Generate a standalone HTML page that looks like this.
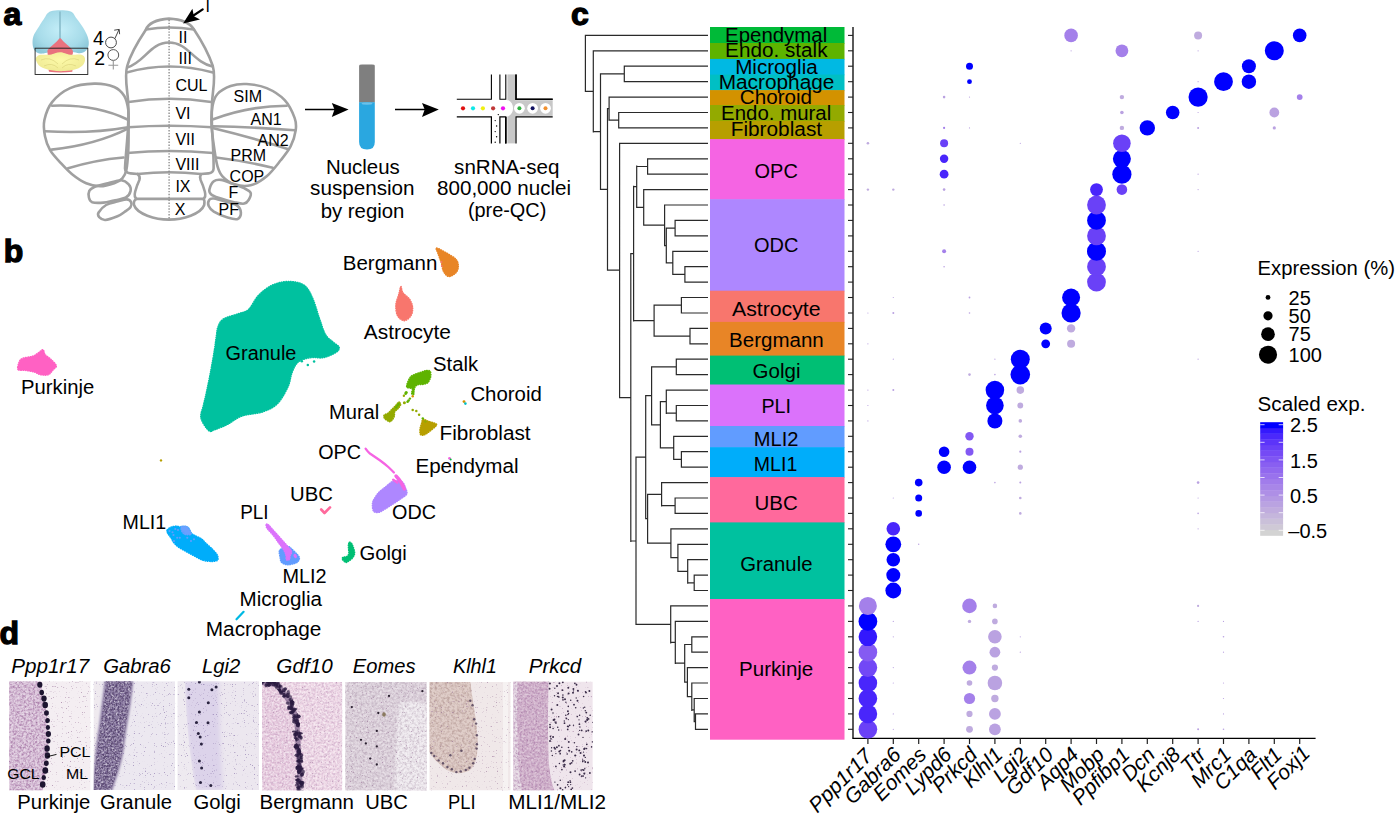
<!DOCTYPE html>
<html><head><meta charset="utf-8"><style>
html,body{margin:0;padding:0;background:#fff;width:1396px;height:815px;overflow:hidden}
svg{display:block;font-family:"Liberation Sans",sans-serif}
</style></head><body>
<svg width="1396" height="815" viewBox="0 0 1396 815">
<text x="3.6" y="25.2" font-size="32" font-weight="bold" fill="#000" stroke="#000" stroke-width="1.3">a</text>
<text x="3.8" y="261.6" font-size="32" font-weight="bold" fill="#000" stroke="#000" stroke-width="1.3">b</text>
<text x="571" y="25" font-size="32" font-weight="bold" fill="#000" stroke="#000" stroke-width="1.3">c</text>
<text x="-0.6" y="644.4" font-size="32" font-weight="bold" fill="#000" stroke="#000" stroke-width="1.3">d</text>
<rect x="710" y="27.0" width="134.5" height="16.60" fill="#00BA38"/>
<rect x="710" y="43.0" width="134.5" height="16.50" fill="#5EB300"/>
<rect x="710" y="58.9" width="134.5" height="16.30" fill="#00B9E3"/>
<rect x="710" y="74.6" width="134.5" height="16.10" fill="#00BFC4"/>
<rect x="710" y="90.1" width="134.5" height="15.50" fill="#D39200"/>
<rect x="710" y="105.0" width="134.5" height="16.60" fill="#93AA00"/>
<rect x="710" y="121.0" width="134.5" height="18.70" fill="#B79F00"/>
<rect x="710" y="139.1" width="134.5" height="60.70" fill="#F564E3"/>
<rect x="710" y="199.2" width="134.5" height="92.10" fill="#AE87FF"/>
<rect x="710" y="290.7" width="134.5" height="31.80" fill="#F8766D"/>
<rect x="710" y="321.9" width="134.5" height="34.30" fill="#E88526"/>
<rect x="710" y="355.6" width="134.5" height="29.50" fill="#00BF74"/>
<rect x="710" y="384.5" width="134.5" height="42.10" fill="#DB72FB"/>
<rect x="710" y="426.0" width="134.5" height="21.80" fill="#619CFF"/>
<rect x="710" y="447.2" width="134.5" height="30.50" fill="#00ADFA"/>
<rect x="710" y="477.1" width="134.5" height="45.90" fill="#FF699C"/>
<rect x="710" y="522.4" width="134.5" height="77.20" fill="#00C19F"/>
<rect x="710" y="599.0" width="134.5" height="140.70" fill="#FF61C3"/>
<text x="725.1" y="41.6" font-size="20" textLength="102.1" lengthAdjust="spacingAndGlyphs">Ependymal</text>
<text x="725.1" y="57.1" font-size="20" textLength="102.4" lengthAdjust="spacingAndGlyphs">Endo. stalk</text>
<text x="735.2" y="73.6" font-size="20" textLength="82.5" lengthAdjust="spacingAndGlyphs">Microglia</text>
<text x="718.7" y="88.7" font-size="20" textLength="115.7" lengthAdjust="spacingAndGlyphs">Macrophage</text>
<text x="739.8" y="104.2" font-size="20" textLength="72.3" lengthAdjust="spacingAndGlyphs">Choroid</text>
<text x="721.1" y="120.2" font-size="20" textLength="110.1" lengthAdjust="spacingAndGlyphs">Endo. mural</text>
<text x="730.7" y="136.4" font-size="20" textLength="91.4" lengthAdjust="spacingAndGlyphs">Fibroblast</text>
<text x="754.6" y="178.3" font-size="20" textLength="43.2" lengthAdjust="spacingAndGlyphs">OPC</text>
<text x="753.9" y="251.9" font-size="20" textLength="44.5" lengthAdjust="spacingAndGlyphs">ODC</text>
<text x="732" y="316.1" font-size="20" textLength="88.6" lengthAdjust="spacingAndGlyphs">Astrocyte</text>
<text x="729.1" y="347.2" font-size="20" textLength="94.6" lengthAdjust="spacingAndGlyphs">Bergmann</text>
<text x="752.6" y="377.8" font-size="20" textLength="47.9" lengthAdjust="spacingAndGlyphs">Golgi</text>
<text x="761.4" y="413" font-size="20" textLength="29.5" lengthAdjust="spacingAndGlyphs">PLI</text>
<text x="753.8" y="445.8" font-size="20" textLength="44.7" lengthAdjust="spacingAndGlyphs">MLI2</text>
<text x="753.8" y="471.2" font-size="20" textLength="43.5" lengthAdjust="spacingAndGlyphs">MLI1</text>
<text x="754.5" y="509.7" font-size="20" textLength="43.2" lengthAdjust="spacingAndGlyphs">UBC</text>
<text x="740.2" y="571.2" font-size="20" textLength="72.3" lengthAdjust="spacingAndGlyphs">Granule</text>
<text x="739.1" y="675.6" font-size="20" textLength="74.2" lengthAdjust="spacingAndGlyphs">Purkinje</text>
<line x1="853" y1="27" x2="853" y2="738.5" stroke="#000" stroke-width="1.3"/>
<line x1="852.4" y1="738.4" x2="1315.6" y2="738.4" stroke="#000" stroke-width="1.3"/>
<line x1="848" y1="35.4" x2="853" y2="35.4" stroke="#222" stroke-width="1.1"/>
<line x1="848" y1="50.8" x2="853" y2="50.8" stroke="#222" stroke-width="1.1"/>
<line x1="848" y1="66.2" x2="853" y2="66.2" stroke="#222" stroke-width="1.1"/>
<line x1="848" y1="81.7" x2="853" y2="81.7" stroke="#222" stroke-width="1.1"/>
<line x1="848" y1="97.1" x2="853" y2="97.1" stroke="#222" stroke-width="1.1"/>
<line x1="848" y1="112.5" x2="853" y2="112.5" stroke="#222" stroke-width="1.1"/>
<line x1="848" y1="127.9" x2="853" y2="127.9" stroke="#222" stroke-width="1.1"/>
<line x1="848" y1="143.3" x2="853" y2="143.3" stroke="#222" stroke-width="1.1"/>
<line x1="848" y1="158.8" x2="853" y2="158.8" stroke="#222" stroke-width="1.1"/>
<line x1="848" y1="174.2" x2="853" y2="174.2" stroke="#222" stroke-width="1.1"/>
<line x1="848" y1="189.6" x2="853" y2="189.6" stroke="#222" stroke-width="1.1"/>
<line x1="848" y1="205.0" x2="853" y2="205.0" stroke="#222" stroke-width="1.1"/>
<line x1="848" y1="220.4" x2="853" y2="220.4" stroke="#222" stroke-width="1.1"/>
<line x1="848" y1="235.9" x2="853" y2="235.9" stroke="#222" stroke-width="1.1"/>
<line x1="848" y1="251.3" x2="853" y2="251.3" stroke="#222" stroke-width="1.1"/>
<line x1="848" y1="266.7" x2="853" y2="266.7" stroke="#222" stroke-width="1.1"/>
<line x1="848" y1="282.1" x2="853" y2="282.1" stroke="#222" stroke-width="1.1"/>
<line x1="848" y1="297.5" x2="853" y2="297.5" stroke="#222" stroke-width="1.1"/>
<line x1="848" y1="313.0" x2="853" y2="313.0" stroke="#222" stroke-width="1.1"/>
<line x1="848" y1="328.4" x2="853" y2="328.4" stroke="#222" stroke-width="1.1"/>
<line x1="848" y1="343.8" x2="853" y2="343.8" stroke="#222" stroke-width="1.1"/>
<line x1="848" y1="359.2" x2="853" y2="359.2" stroke="#222" stroke-width="1.1"/>
<line x1="848" y1="374.6" x2="853" y2="374.6" stroke="#222" stroke-width="1.1"/>
<line x1="848" y1="390.1" x2="853" y2="390.1" stroke="#222" stroke-width="1.1"/>
<line x1="848" y1="405.5" x2="853" y2="405.5" stroke="#222" stroke-width="1.1"/>
<line x1="848" y1="420.9" x2="853" y2="420.9" stroke="#222" stroke-width="1.1"/>
<line x1="848" y1="436.3" x2="853" y2="436.3" stroke="#222" stroke-width="1.1"/>
<line x1="848" y1="451.7" x2="853" y2="451.7" stroke="#222" stroke-width="1.1"/>
<line x1="848" y1="467.2" x2="853" y2="467.2" stroke="#222" stroke-width="1.1"/>
<line x1="848" y1="482.6" x2="853" y2="482.6" stroke="#222" stroke-width="1.1"/>
<line x1="848" y1="498.0" x2="853" y2="498.0" stroke="#222" stroke-width="1.1"/>
<line x1="848" y1="513.4" x2="853" y2="513.4" stroke="#222" stroke-width="1.1"/>
<line x1="848" y1="528.8" x2="853" y2="528.8" stroke="#222" stroke-width="1.1"/>
<line x1="848" y1="544.3" x2="853" y2="544.3" stroke="#222" stroke-width="1.1"/>
<line x1="848" y1="559.7" x2="853" y2="559.7" stroke="#222" stroke-width="1.1"/>
<line x1="848" y1="575.1" x2="853" y2="575.1" stroke="#222" stroke-width="1.1"/>
<line x1="848" y1="590.5" x2="853" y2="590.5" stroke="#222" stroke-width="1.1"/>
<line x1="848" y1="605.9" x2="853" y2="605.9" stroke="#222" stroke-width="1.1"/>
<line x1="848" y1="621.4" x2="853" y2="621.4" stroke="#222" stroke-width="1.1"/>
<line x1="848" y1="636.8" x2="853" y2="636.8" stroke="#222" stroke-width="1.1"/>
<line x1="848" y1="652.2" x2="853" y2="652.2" stroke="#222" stroke-width="1.1"/>
<line x1="848" y1="667.6" x2="853" y2="667.6" stroke="#222" stroke-width="1.1"/>
<line x1="848" y1="683.0" x2="853" y2="683.0" stroke="#222" stroke-width="1.1"/>
<line x1="848" y1="698.5" x2="853" y2="698.5" stroke="#222" stroke-width="1.1"/>
<line x1="848" y1="713.9" x2="853" y2="713.9" stroke="#222" stroke-width="1.1"/>
<line x1="848" y1="729.3" x2="853" y2="729.3" stroke="#222" stroke-width="1.1"/>
<line x1="867.9" y1="738.4" x2="867.9" y2="744" stroke="#222" stroke-width="1.2"/>
<text x="0" y="0" font-size="21" font-style="italic" text-anchor="end" transform="translate(873.4,757.5) rotate(-45)">Ppp1r17</text>
<line x1="893.3" y1="738.4" x2="893.3" y2="744" stroke="#222" stroke-width="1.2"/>
<text x="0" y="0" font-size="21" font-style="italic" text-anchor="end" transform="translate(902.3,756.0) rotate(-45)">Gabra6</text>
<line x1="918.7" y1="738.4" x2="918.7" y2="744" stroke="#222" stroke-width="1.2"/>
<text x="0" y="0" font-size="21" font-style="italic" text-anchor="end" transform="translate(927.7,756.0) rotate(-45)">Eomes</text>
<line x1="944.1" y1="738.4" x2="944.1" y2="744" stroke="#222" stroke-width="1.2"/>
<text x="0" y="0" font-size="21" font-style="italic" text-anchor="end" transform="translate(953.1,756.0) rotate(-45)">Lypd6</text>
<line x1="969.5" y1="738.4" x2="969.5" y2="744" stroke="#222" stroke-width="1.2"/>
<text x="0" y="0" font-size="21" font-style="italic" text-anchor="end" transform="translate(978.5,756.0) rotate(-45)">Prkcd</text>
<line x1="994.9" y1="738.4" x2="994.9" y2="744" stroke="#222" stroke-width="1.2"/>
<text x="0" y="0" font-size="21" font-style="italic" text-anchor="end" transform="translate(1003.9,756.0) rotate(-45)">Klhl1</text>
<line x1="1020.3" y1="738.4" x2="1020.3" y2="744" stroke="#222" stroke-width="1.2"/>
<text x="0" y="0" font-size="21" font-style="italic" text-anchor="end" transform="translate(1029.3,756.0) rotate(-45)">Lgi2</text>
<line x1="1045.7" y1="738.4" x2="1045.7" y2="744" stroke="#222" stroke-width="1.2"/>
<text x="0" y="0" font-size="21" font-style="italic" text-anchor="end" transform="translate(1054.7,756.0) rotate(-45)">Gdf10</text>
<line x1="1071.1" y1="738.4" x2="1071.1" y2="744" stroke="#222" stroke-width="1.2"/>
<text x="0" y="0" font-size="21" font-style="italic" text-anchor="end" transform="translate(1080.1,756.0) rotate(-45)">Aqp4</text>
<line x1="1096.5" y1="738.4" x2="1096.5" y2="744" stroke="#222" stroke-width="1.2"/>
<text x="0" y="0" font-size="21" font-style="italic" text-anchor="end" transform="translate(1105.5,756.0) rotate(-45)">Mobp</text>
<line x1="1121.9" y1="738.4" x2="1121.9" y2="744" stroke="#222" stroke-width="1.2"/>
<text x="0" y="0" font-size="21" font-style="italic" text-anchor="end" transform="translate(1130.9,756.0) rotate(-45)">Ppfibp1</text>
<line x1="1147.3" y1="738.4" x2="1147.3" y2="744" stroke="#222" stroke-width="1.2"/>
<text x="0" y="0" font-size="21" font-style="italic" text-anchor="end" transform="translate(1156.3,756.0) rotate(-45)">Dcn</text>
<line x1="1172.7" y1="738.4" x2="1172.7" y2="744" stroke="#222" stroke-width="1.2"/>
<text x="0" y="0" font-size="21" font-style="italic" text-anchor="end" transform="translate(1181.7,756.0) rotate(-45)">Kcnj8</text>
<line x1="1198.1" y1="738.4" x2="1198.1" y2="744" stroke="#222" stroke-width="1.2"/>
<text x="0" y="0" font-size="21" font-style="italic" text-anchor="end" transform="translate(1207.1,756.0) rotate(-45)">Ttr</text>
<line x1="1223.5" y1="738.4" x2="1223.5" y2="744" stroke="#222" stroke-width="1.2"/>
<text x="0" y="0" font-size="21" font-style="italic" text-anchor="end" transform="translate(1232.5,756.0) rotate(-45)">Mrc1</text>
<line x1="1248.9" y1="738.4" x2="1248.9" y2="744" stroke="#222" stroke-width="1.2"/>
<text x="0" y="0" font-size="21" font-style="italic" text-anchor="end" transform="translate(1257.9,756.0) rotate(-45)">C1qa</text>
<line x1="1274.3" y1="738.4" x2="1274.3" y2="744" stroke="#222" stroke-width="1.2"/>
<text x="0" y="0" font-size="21" font-style="italic" text-anchor="end" transform="translate(1283.3,756.0) rotate(-45)">Flt1</text>
<line x1="1299.7" y1="738.4" x2="1299.7" y2="744" stroke="#222" stroke-width="1.2"/>
<text x="0" y="0" font-size="21" font-style="italic" text-anchor="end" transform="translate(1311.2,754.5) rotate(-45)">Foxj1</text>
<circle cx="867.9" cy="729.3" r="9.3" fill="#6a41f7"/>
<circle cx="893.3" cy="729.3" r="0.6" fill="#baa2e1"/>
<circle cx="969.5" cy="729.3" r="3.4" fill="#bfabdf"/>
<circle cx="994.9" cy="729.3" r="5.9" fill="#baa2e1"/>
<circle cx="1198.1" cy="729.3" r="1.0" fill="#baa2e1"/>
<circle cx="1223.5" cy="729.3" r="0.8" fill="#baa2e1"/>
<circle cx="867.9" cy="713.9" r="9.3" fill="#4926fb"/>
<circle cx="893.3" cy="713.9" r="0.6" fill="#baa2e1"/>
<circle cx="969.5" cy="713.9" r="3.1" fill="#bfabdf"/>
<circle cx="994.9" cy="713.9" r="5.9" fill="#baa2e1"/>
<circle cx="1223.5" cy="713.9" r="0.6" fill="#baa2e1"/>
<circle cx="867.9" cy="698.5" r="9.3" fill="#4926fb"/>
<circle cx="969.5" cy="698.5" r="5.6" fill="#a480ea"/>
<circle cx="994.9" cy="698.5" r="3.7" fill="#bfabdf"/>
<circle cx="1223.5" cy="698.5" r="0.6" fill="#baa2e1"/>
<circle cx="867.9" cy="683.0" r="9.3" fill="#4926fb"/>
<circle cx="893.3" cy="683.0" r="0.6" fill="#baa2e1"/>
<circle cx="969.5" cy="683.0" r="2.8" fill="#bfabdf"/>
<circle cx="994.9" cy="683.0" r="7.3" fill="#baa2e1"/>
<circle cx="1223.5" cy="683.0" r="0.6" fill="#baa2e1"/>
<circle cx="867.9" cy="667.6" r="9.3" fill="#7248f6"/>
<circle cx="893.3" cy="667.6" r="0.6" fill="#baa2e1"/>
<circle cx="969.5" cy="667.6" r="7.0" fill="#a480ea"/>
<circle cx="994.9" cy="667.6" r="3.1" fill="#bfabdf"/>
<circle cx="867.9" cy="652.2" r="9.3" fill="#855bf2"/>
<circle cx="994.9" cy="652.2" r="5.4" fill="#baa2e1"/>
<circle cx="1020.3" cy="652.2" r="0.6" fill="#baa2e1"/>
<circle cx="1223.5" cy="652.2" r="0.6" fill="#baa2e1"/>
<circle cx="867.9" cy="636.8" r="9.3" fill="#3318fd"/>
<circle cx="893.3" cy="636.8" r="0.6" fill="#baa2e1"/>
<circle cx="994.9" cy="636.8" r="6.8" fill="#baa2e1"/>
<circle cx="1020.3" cy="636.8" r="0.6" fill="#baa2e1"/>
<circle cx="1223.5" cy="636.8" r="0.8" fill="#baa2e1"/>
<circle cx="867.9" cy="621.4" r="9.4" fill="#0000ff"/>
<circle cx="893.3" cy="621.4" r="0.6" fill="#baa2e1"/>
<circle cx="969.5" cy="621.4" r="1.7" fill="#bfabdf"/>
<circle cx="994.9" cy="621.4" r="2.8" fill="#bfabdf"/>
<circle cx="1198.1" cy="621.4" r="0.6" fill="#baa2e1"/>
<circle cx="1223.5" cy="621.4" r="0.6" fill="#baa2e1"/>
<circle cx="867.9" cy="605.9" r="9.0" fill="#a480ea"/>
<circle cx="969.5" cy="605.9" r="7.3" fill="#a480ea"/>
<circle cx="994.9" cy="605.9" r="2.3" fill="#bfabdf"/>
<circle cx="1198.1" cy="605.9" r="1.1" fill="#bfabdf"/>
<circle cx="893.3" cy="590.5" r="7.9" fill="#0000ff"/>
<circle cx="893.3" cy="575.1" r="7.0" fill="#0000ff"/>
<circle cx="893.3" cy="559.7" r="6.8" fill="#0000ff"/>
<circle cx="893.3" cy="544.3" r="7.9" fill="#0000ff"/>
<circle cx="918.7" cy="544.3" r="0.7" fill="#baa2e1"/>
<circle cx="893.3" cy="528.8" r="6.8" fill="#4926fb"/>
<circle cx="1198.1" cy="528.8" r="0.6" fill="#baa2e1"/>
<circle cx="918.7" cy="513.4" r="3.3" fill="#0000ff"/>
<circle cx="1020.3" cy="513.4" r="1.3" fill="#bfabdf"/>
<circle cx="1198.1" cy="513.4" r="0.8" fill="#baa2e1"/>
<circle cx="893.3" cy="498.0" r="0.6" fill="#baa2e1"/>
<circle cx="918.7" cy="498.0" r="3.5" fill="#0000ff"/>
<circle cx="1020.3" cy="498.0" r="1.3" fill="#bfabdf"/>
<circle cx="1198.1" cy="498.0" r="0.6" fill="#baa2e1"/>
<circle cx="918.7" cy="482.6" r="3.8" fill="#0000ff"/>
<circle cx="994.9" cy="482.6" r="0.8" fill="#baa2e1"/>
<circle cx="1020.3" cy="482.6" r="1.0" fill="#baa2e1"/>
<circle cx="1198.1" cy="482.6" r="1.3" fill="#baa2e1"/>
<circle cx="944.1" cy="467.2" r="6.8" fill="#0000ff"/>
<circle cx="969.5" cy="467.2" r="6.8" fill="#0000ff"/>
<circle cx="1020.3" cy="467.2" r="2.6" fill="#bfabdf"/>
<circle cx="944.1" cy="451.7" r="5.3" fill="#0000ff"/>
<circle cx="969.5" cy="451.7" r="4.0" fill="#8258f3"/>
<circle cx="1020.3" cy="451.7" r="1.1" fill="#baa2e1"/>
<circle cx="969.5" cy="436.3" r="4.2" fill="#8258f3"/>
<circle cx="1020.3" cy="436.3" r="1.8" fill="#bfabdf"/>
<circle cx="867.9" cy="420.9" r="0.6" fill="#baa2e1"/>
<circle cx="994.9" cy="420.9" r="7.5" fill="#0000ff"/>
<circle cx="1020.3" cy="420.9" r="1.8" fill="#bfabdf"/>
<circle cx="867.9" cy="405.5" r="0.6" fill="#baa2e1"/>
<circle cx="994.9" cy="405.5" r="8.8" fill="#0000ff"/>
<circle cx="1020.3" cy="405.5" r="2.9" fill="#bfabdf"/>
<circle cx="867.9" cy="390.1" r="0.6" fill="#baa2e1"/>
<circle cx="893.3" cy="390.1" r="1.0" fill="#baa2e1"/>
<circle cx="994.9" cy="390.1" r="9.3" fill="#0000ff"/>
<circle cx="1020.3" cy="390.1" r="3.8" fill="#bfabdf"/>
<circle cx="969.5" cy="374.6" r="1.3" fill="#bfabdf"/>
<circle cx="994.9" cy="374.6" r="0.8" fill="#baa2e1"/>
<circle cx="1020.3" cy="374.6" r="9.8" fill="#0000ff"/>
<circle cx="893.3" cy="359.2" r="0.6" fill="#baa2e1"/>
<circle cx="994.9" cy="359.2" r="0.6" fill="#baa2e1"/>
<circle cx="1020.3" cy="359.2" r="9.5" fill="#0000ff"/>
<circle cx="1198.1" cy="359.2" r="0.6" fill="#baa2e1"/>
<circle cx="867.9" cy="343.8" r="0.6" fill="#baa2e1"/>
<circle cx="1045.7" cy="343.8" r="4.4" fill="#0000ff"/>
<circle cx="1071.1" cy="343.8" r="4.0" fill="#bfabdf"/>
<circle cx="1045.7" cy="328.4" r="6.0" fill="#0000ff"/>
<circle cx="1071.1" cy="328.4" r="4.2" fill="#bfabdf"/>
<circle cx="867.9" cy="313.0" r="0.6" fill="#baa2e1"/>
<circle cx="893.3" cy="313.0" r="1.0" fill="#baa2e1"/>
<circle cx="969.5" cy="313.0" r="0.8" fill="#baa2e1"/>
<circle cx="1071.1" cy="313.0" r="9.6" fill="#0000ff"/>
<circle cx="893.3" cy="297.5" r="0.6" fill="#baa2e1"/>
<circle cx="969.5" cy="297.5" r="0.9" fill="#baa2e1"/>
<circle cx="1071.1" cy="297.5" r="9.0" fill="#0000ff"/>
<circle cx="1096.5" cy="282.1" r="9.4" fill="#6a41f7"/>
<circle cx="944.1" cy="266.7" r="0.8" fill="#baa2e1"/>
<circle cx="1096.5" cy="266.7" r="9.4" fill="#6a41f7"/>
<circle cx="944.1" cy="251.3" r="2.0" fill="#a480ea"/>
<circle cx="1096.5" cy="251.3" r="9.5" fill="#0000ff"/>
<circle cx="1198.1" cy="251.3" r="0.6" fill="#baa2e1"/>
<circle cx="1096.5" cy="235.9" r="9.4" fill="#6a41f7"/>
<circle cx="1096.5" cy="220.4" r="9.4" fill="#0000ff"/>
<circle cx="944.1" cy="205.0" r="0.8" fill="#baa2e1"/>
<circle cx="1096.5" cy="205.0" r="9.4" fill="#6a41f7"/>
<circle cx="867.9" cy="189.6" r="1.2" fill="#bfabdf"/>
<circle cx="893.3" cy="189.6" r="1.2" fill="#bfabdf"/>
<circle cx="944.1" cy="189.6" r="1.3" fill="#baa2e1"/>
<circle cx="1096.5" cy="189.6" r="6.4" fill="#4926fb"/>
<circle cx="1121.9" cy="189.6" r="5.3" fill="#6a41f7"/>
<circle cx="1198.1" cy="189.6" r="0.6" fill="#baa2e1"/>
<circle cx="944.1" cy="174.2" r="4.4" fill="#4926fb"/>
<circle cx="1121.9" cy="174.2" r="9.6" fill="#0000ff"/>
<circle cx="1198.1" cy="174.2" r="0.6" fill="#baa2e1"/>
<circle cx="944.1" cy="158.8" r="4.2" fill="#4926fb"/>
<circle cx="1121.9" cy="158.8" r="9.0" fill="#0000ff"/>
<circle cx="867.9" cy="143.3" r="1.3" fill="#bfabdf"/>
<circle cx="944.1" cy="143.3" r="4.0" fill="#6a41f7"/>
<circle cx="1020.3" cy="143.3" r="0.6" fill="#baa2e1"/>
<circle cx="1121.9" cy="143.3" r="8.8" fill="#6a41f7"/>
<circle cx="944.1" cy="127.9" r="1.1" fill="#a480ea"/>
<circle cx="969.5" cy="127.9" r="0.6" fill="#baa2e1"/>
<circle cx="1121.9" cy="127.9" r="2.2" fill="#bfabdf"/>
<circle cx="1147.3" cy="127.9" r="7.7" fill="#0000ff"/>
<circle cx="1198.1" cy="127.9" r="1.0" fill="#baa2e1"/>
<circle cx="1274.3" cy="127.9" r="1.6" fill="#baa2e1"/>
<circle cx="1121.9" cy="112.5" r="1.8" fill="#baa2e1"/>
<circle cx="1172.7" cy="112.5" r="6.8" fill="#0000ff"/>
<circle cx="1198.1" cy="112.5" r="0.6" fill="#baa2e1"/>
<circle cx="1274.3" cy="112.5" r="4.9" fill="#baa2e1"/>
<circle cx="944.1" cy="97.1" r="1.3" fill="#baa2e1"/>
<circle cx="969.5" cy="97.1" r="0.6" fill="#baa2e1"/>
<circle cx="1121.9" cy="97.1" r="2.2" fill="#bfabdf"/>
<circle cx="1198.1" cy="97.1" r="9.6" fill="#0000ff"/>
<circle cx="1299.7" cy="97.1" r="2.9" fill="#a480ea"/>
<circle cx="969.5" cy="81.7" r="2.4" fill="#0000ff"/>
<circle cx="1198.1" cy="81.7" r="0.6" fill="#baa2e1"/>
<circle cx="1223.5" cy="81.7" r="9.4" fill="#0000ff"/>
<circle cx="1248.9" cy="81.7" r="7.2" fill="#0000ff"/>
<circle cx="969.5" cy="66.2" r="3.5" fill="#0000ff"/>
<circle cx="1248.9" cy="66.2" r="7.0" fill="#0000ff"/>
<circle cx="1071.1" cy="50.8" r="0.6" fill="#baa2e1"/>
<circle cx="1121.9" cy="50.8" r="6.4" fill="#a480ea"/>
<circle cx="1198.1" cy="50.8" r="0.6" fill="#baa2e1"/>
<circle cx="1274.3" cy="50.8" r="9.5" fill="#0000ff"/>
<circle cx="1071.1" cy="35.4" r="6.8" fill="#a480ea"/>
<circle cx="1198.1" cy="35.4" r="4.0" fill="#bfabdf"/>
<circle cx="1299.7" cy="35.4" r="6.8" fill="#0000ff"/>
<text x="1257.6" y="275.2" font-size="20" textLength="137.3" lengthAdjust="spacingAndGlyphs">Expression (%)</text>
<circle cx="1268" cy="297.4" r="2.4" fill="#000"/>
<text x="1288.6" y="304.59999999999997" font-size="20" text-anchor="start" font-weight="normal" fill="#000" >25</text>
<circle cx="1268" cy="315.8" r="4.6" fill="#000"/>
<text x="1288.6" y="323.0" font-size="20" text-anchor="start" font-weight="normal" fill="#000" >50</text>
<circle cx="1268" cy="334.2" r="6.85" fill="#000"/>
<text x="1288.6" y="341.4" font-size="20" text-anchor="start" font-weight="normal" fill="#000" >75</text>
<circle cx="1268" cy="354.7" r="9.06" fill="#000"/>
<text x="1288.6" y="361.9" font-size="20" text-anchor="start" font-weight="normal" fill="#000" >100</text>
<text x="1257.6" y="410.6" font-size="20" textLength="107.8" lengthAdjust="spacingAndGlyphs">Scaled exp.</text>
<rect x="1260.2" y="529.84" width="22.9" height="5.97" fill="#d3d3d3"/>
<rect x="1260.2" y="524.17" width="22.9" height="5.97" fill="#cfc9d6"/>
<rect x="1260.2" y="518.50" width="22.9" height="5.97" fill="#cac0d9"/>
<rect x="1260.2" y="512.84" width="22.9" height="5.97" fill="#c5b6dc"/>
<rect x="1260.2" y="507.18" width="22.9" height="5.97" fill="#c0acde"/>
<rect x="1260.2" y="501.51" width="22.9" height="5.97" fill="#baa3e1"/>
<rect x="1260.2" y="495.84" width="22.9" height="5.97" fill="#b499e3"/>
<rect x="1260.2" y="490.18" width="22.9" height="5.97" fill="#ae8fe6"/>
<rect x="1260.2" y="484.51" width="22.9" height="5.97" fill="#a886e8"/>
<rect x="1260.2" y="478.85" width="22.9" height="5.97" fill="#a17ceb"/>
<rect x="1260.2" y="473.19" width="22.9" height="5.97" fill="#9972ed"/>
<rect x="1260.2" y="467.52" width="22.9" height="5.97" fill="#9168ef"/>
<rect x="1260.2" y="461.86" width="22.9" height="5.97" fill="#895ff1"/>
<rect x="1260.2" y="456.19" width="22.9" height="5.97" fill="#7f55f3"/>
<rect x="1260.2" y="450.52" width="22.9" height="5.97" fill="#754af5"/>
<rect x="1260.2" y="444.86" width="22.9" height="5.97" fill="#6940f7"/>
<rect x="1260.2" y="439.19" width="22.9" height="5.97" fill="#5c34f9"/>
<rect x="1260.2" y="433.53" width="22.9" height="5.97" fill="#4b28fb"/>
<rect x="1260.2" y="427.87" width="22.9" height="5.97" fill="#3519fd"/>
<rect x="1260.2" y="422.20" width="22.9" height="5.97" fill="#0000ff"/>
<line x1="1260.2" y1="424.7" x2="1264.6" y2="424.7" stroke="#fff" stroke-width="1" opacity="0.75"/>
<line x1="1278.7" y1="424.7" x2="1283.1" y2="424.7" stroke="#fff" stroke-width="1" opacity="0.75"/>
<line x1="1260.2" y1="442.3" x2="1264.6" y2="442.3" stroke="#fff" stroke-width="1" opacity="0.75"/>
<line x1="1278.7" y1="442.3" x2="1283.1" y2="442.3" stroke="#fff" stroke-width="1" opacity="0.75"/>
<line x1="1260.2" y1="459.9" x2="1264.6" y2="459.9" stroke="#fff" stroke-width="1" opacity="0.75"/>
<line x1="1278.7" y1="459.9" x2="1283.1" y2="459.9" stroke="#fff" stroke-width="1" opacity="0.75"/>
<line x1="1260.2" y1="477.5" x2="1264.6" y2="477.5" stroke="#fff" stroke-width="1" opacity="0.75"/>
<line x1="1278.7" y1="477.5" x2="1283.1" y2="477.5" stroke="#fff" stroke-width="1" opacity="0.75"/>
<line x1="1260.2" y1="495.1" x2="1264.6" y2="495.1" stroke="#fff" stroke-width="1" opacity="0.75"/>
<line x1="1278.7" y1="495.1" x2="1283.1" y2="495.1" stroke="#fff" stroke-width="1" opacity="0.75"/>
<line x1="1260.2" y1="512.7" x2="1264.6" y2="512.7" stroke="#fff" stroke-width="1" opacity="0.75"/>
<line x1="1278.7" y1="512.7" x2="1283.1" y2="512.7" stroke="#fff" stroke-width="1" opacity="0.75"/>
<line x1="1260.2" y1="530.3" x2="1264.6" y2="530.3" stroke="#fff" stroke-width="1" opacity="0.75"/>
<line x1="1278.7" y1="530.3" x2="1283.1" y2="530.3" stroke="#fff" stroke-width="1" opacity="0.75"/>
<text x="1290" y="432.3" font-size="20" text-anchor="start" font-weight="normal" fill="#000" >2.5</text>
<text x="1290" y="467.5" font-size="20" text-anchor="start" font-weight="normal" fill="#000" >1.5</text>
<text x="1290" y="502.70000000000005" font-size="20" text-anchor="start" font-weight="normal" fill="#000" >0.5</text>
<text x="1288.3" y="537.9" font-size="20" text-anchor="start" font-weight="normal" fill="#000" >–0.5</text>
<path d="M585.4 35.4L707.4 35.4M593.3 50.8L707.4 50.8M624.3 66.2L707.4 66.2M624.3 81.7L707.4 81.7M609.1 97.1L707.4 97.1M618.7 112.5L707.4 112.5M618.7 127.9L707.4 127.9M619.6 143.3L707.4 143.3M647.6 158.8L707.4 158.8M647.6 174.2L707.4 174.2M643.7 189.6L707.4 189.6M664.6 205.0L707.4 205.0M675.1 220.4L707.4 220.4M675.1 235.9L707.4 235.9M672.8 251.3L707.4 251.3M684.9 266.7L707.4 266.7M684.9 282.1L707.4 282.1M681.4 297.5L707.4 297.5M681.4 313.0L707.4 313.0M690.0 328.4L707.4 328.4M690.0 343.8L707.4 343.8M676.3 359.2L707.4 359.2M676.3 374.6L707.4 374.6M666.3 390.1L707.4 390.1M676.3 405.5L707.4 405.5M676.3 420.9L707.4 420.9M673.7 436.3L707.4 436.3M681.4 451.7L707.4 451.7M681.4 467.2L707.4 467.2M661.6 482.6L707.4 482.6M675.1 498.0L707.4 498.0M675.1 513.4L707.4 513.4M670.9 528.8L707.4 528.8M677.9 544.3L707.4 544.3M687.7 559.7L707.4 559.7M694.2 575.1L707.4 575.1M694.2 590.5L707.4 590.5M670.7 605.9L707.4 605.9M675.3 621.4L707.4 621.4M691.8 636.8L707.4 636.8M691.8 652.2L707.4 652.2M687.4 667.6L707.4 667.6M691.8 683.0L707.4 683.0M694.2 698.5L707.4 698.5M695.5 713.9L707.4 713.9M695.5 729.3L707.4 729.3M585.4 35.4L585.4 91.4M593.3 50.8L593.3 131.8M585.4 91.3L593.3 91.3M600.5 74.0L600.5 189.4M593.3 131.7L600.5 131.7M624.3 66.2L624.3 81.7M600.5 73.9L624.3 73.9M607.5 108.6L607.5 270.2M600.5 189.4L607.5 189.4M609.1 97.1L609.1 120.1M607.5 108.6L609.1 108.6M618.7 112.5L618.7 127.9M609.1 120.2L618.7 120.2M619.6 143.3L619.6 397.1M607.5 270.2L619.6 270.2M630.8 254.1L630.8 541.3M619.6 397.7L630.8 397.7M633.6 186.3L633.6 321.0M630.8 253.7L633.6 253.7M636.7 166.0L636.7 207.3M633.6 186.7L636.7 186.7M647.6 158.8L647.6 174.2M636.7 166.5L647.6 166.5M643.7 189.6L643.7 225.0M636.7 207.3L643.7 207.3M664.6 205.0L664.6 245.3M643.7 225.2L664.6 225.2M666.3 228.3L666.3 262.8M664.6 245.6L666.3 245.6M675.1 220.4L675.1 235.9M666.3 228.2L675.1 228.2M672.8 251.3L672.8 274.4M666.3 262.8L672.8 262.8M684.9 266.7L684.9 282.1M672.8 274.4L684.9 274.4M654.1 305.2L654.1 336.2M633.6 320.7L654.1 320.7M681.4 297.5L681.4 313.0M654.1 305.2L681.4 305.2M690.0 328.4L690.0 343.8M654.1 336.1L690.0 336.1M636.0 457.7L636.0 624.3M630.8 541.0L636.0 541.0M645.7 396.0L645.7 518.4M636.0 457.2L645.7 457.2M651.6 366.8L651.6 424.6M645.7 395.7L651.6 395.7M676.3 359.2L676.3 374.6M651.6 366.9L676.3 366.9M660.4 401.8L660.4 448.0M651.6 424.9L660.4 424.9M666.3 390.1L666.3 413.4M660.4 401.7L666.3 401.7M676.3 405.5L676.3 420.9M666.3 413.2L676.3 413.2M673.7 436.3L673.7 459.4M660.4 447.9L673.7 447.9M681.4 451.7L681.4 467.2M673.7 459.4L681.4 459.4M647.6 494.3L647.6 543.1M645.7 518.7L647.6 518.7M661.6 482.6L661.6 506.0M647.6 494.3L661.6 494.3M675.1 498.0L675.1 513.4M661.6 505.7L675.1 505.7M670.9 528.8L670.9 557.6M647.6 543.2L670.9 543.2M677.9 544.3L677.9 571.1M670.9 557.7L677.9 557.7M687.7 559.7L687.7 583.2M677.9 571.4L687.7 571.4M694.2 575.1L694.2 590.5M687.7 582.8L694.2 582.8M670.7 605.9L670.7 642.8M636.0 624.4L670.7 624.4M675.3 621.4L675.3 663.5M670.7 642.4L675.3 642.4M684.7 644.6L684.7 681.9M675.3 663.2L684.7 663.2M691.8 636.8L691.8 652.2M684.7 644.5L691.8 644.5M687.4 667.6L687.4 696.6M684.7 682.1L687.4 682.1M691.8 683.0L691.8 710.4M687.4 696.7L691.8 696.7M694.2 698.5L694.2 721.4M691.8 709.9L694.2 709.9M695.5 713.9L695.5 729.3M694.2 721.6L695.5 721.6" stroke="#2a2a2a" stroke-width="1.2" fill="none" stroke-linecap="square"/>
<defs><radialGradient id="cbr" cx="0.5" cy="0.45" r="0.6"><stop offset="0" stop-color="#c4eef8"/><stop offset="0.7" stop-color="#a6dbe9"/><stop offset="1" stop-color="#8ec9da"/></radialGradient><radialGradient id="cyl" cx="0.5" cy="0.4" r="0.6"><stop offset="0" stop-color="#fdfaa8"/><stop offset="1" stop-color="#efea94"/></radialGradient></defs>
<path d="M51.0 11.3C55.4 10.0 65.7 10.1 69.9 11.3C74.1 12.5 74.2 15.6 76.4 18.3C78.6 21.1 81.4 24.8 83.2 27.8C85.0 30.8 86.6 33.7 87.5 36.3C88.4 38.9 88.9 41.1 88.8 43.2C88.7 45.4 88.3 47.6 87.1 49.2C85.9 50.9 83.7 52.6 81.5 53.1C79.3 53.6 77.4 52.7 73.8 52.2C70.2 51.7 64.4 49.9 60.0 50.0C55.6 50.1 50.6 52.1 47.2 52.7C43.8 53.3 41.5 53.9 39.4 53.5C37.2 53.1 35.4 51.7 34.3 50.1C33.2 48.5 32.8 46.4 32.6 44.1C32.5 41.8 32.5 38.9 33.4 36.3C34.2 33.7 36.0 31.5 37.7 28.6C39.4 25.8 41.5 22.1 43.7 19.2C45.9 16.3 46.6 12.6 51.0 11.3Z" fill="url(#cbr)"/>
<line x1="60" y1="11.5" x2="60" y2="39" stroke="#88bccb" stroke-width="1.6"/>
<path d="M60.1 38.3C61.2 38.3 62.2 40.3 63.5 41.5C64.8 42.7 66.6 44.2 68.0 45.5C69.4 46.8 71.3 48.3 72.1 49.5C72.9 50.7 73.1 51.7 72.9 52.7C72.7 53.7 73.2 54.9 71.0 55.5C68.8 56.1 63.7 56.5 60.0 56.5C56.3 56.5 51.1 56.1 49.0 55.5C46.9 54.9 47.8 53.7 47.6 52.7C47.4 51.7 47.2 50.7 48.0 49.5C48.8 48.3 50.8 46.8 52.2 45.5C53.7 44.2 55.4 42.7 56.7 41.5C58.0 40.3 59.0 38.3 60.1 38.3Z" fill="#e9727e"/>
<path d="M49 48.6 Q60 47.2 71 48.6" stroke="#c85a68" stroke-width="1" fill="none" opacity="0.7"/>
<path d="M48.5 69.5 L72.5 69.5 L72.3 71.8 Q60 73.2 49 71.8Z" fill="#e9727e"/>
<path d="M36.0 57.8C36.6 56.7 38.0 55.3 40.3 54.8C42.6 54.3 47.3 55.1 49.8 54.8C52.2 54.5 53.3 53.6 55.0 53.2C56.7 52.8 58.4 52.2 60.1 52.2C61.8 52.2 63.3 52.8 65.0 53.2C66.7 53.6 67.7 54.5 70.4 54.8C73.2 55.1 79.1 54.1 81.5 54.8C83.9 55.4 84.7 57.1 85.0 58.7C85.3 60.4 84.6 63.0 83.2 64.7C81.8 66.4 79.6 67.9 76.4 69.0C73.2 70.1 68.5 70.9 64.3 71.1C60.1 71.3 55.5 71.1 51.5 70.3C47.5 69.5 42.8 67.9 40.3 66.4C37.8 64.9 37.1 62.6 36.4 61.2C35.7 59.8 35.4 58.9 36.0 57.8Z" fill="url(#cyl)"/>
<path d="M41 60 Q50 56 58 64 M79 60 Q70 56 62 64 M44 66 Q52 62 58 68 M76 66 Q68 62 62 68" stroke="#dcd67e" stroke-width="0.7" fill="none"/>
<rect x="35.1" y="48.2" width="52.7" height="26.3" fill="none" stroke="#222" stroke-width="0.9"/>
<text x="93.0" y="45.0" font-size="19.5" >4</text>
<text x="94.3" y="64.8" font-size="19.5" >2</text>
<circle cx="111" cy="42.5" r="5.4" fill="none" stroke="#333" stroke-width="0.9"/>
<path d="M114.8 38.7 L119 29.6 M114.2 30.2 L119.2 29.4 L119.6 34.2" stroke="#333" stroke-width="0.9" fill="none"/>
<circle cx="113.3" cy="55" r="5.4" fill="none" stroke="#444" stroke-width="0.9"/>
<path d="M113.3 60.4 V69.5 M108.4 65.3 H118.2" stroke="#999" stroke-width="1.1" fill="none"/>
<path d="M146 29.5 C148 24 156 19.5 169 18.6 C182 19.2 190 23 194 29.5 C201 40 208 52 212.8 66 C214.5 72 214.5 80 213 92 C211.5 103 211.6 116 212 128 C212.8 142 213.8 158 213.6 168.5 Q213.4 173 208.5 173.4 L201 174 Q169 170.4 137.7 174 L130.5 173.4 Q125.2 173 125 168.5 C125.4 158 127.2 142 128 128 C128.6 116 128.8 103 127.2 92 C125.7 80 125.5 72 127.2 66 C131 52 139 40 146 29.5Z" stroke="#a0a0a0" stroke-width="2.6" fill="none" stroke-linejoin="round" stroke-linecap="round"/>
<path d="M146 29.5 Q169 25.5 194 29.5" stroke="#a0a0a0" stroke-width="2.6" fill="none" stroke-linejoin="round" stroke-linecap="round"/>
<path d="M127.2 67.5 C145 62 150 42.5 169 42.5 C188 42.5 193 62 212.6 66.5" stroke="#a0a0a0" stroke-width="2.6" fill="none" stroke-linejoin="round" stroke-linecap="round"/>
<path d="M126.6 72.5 Q169 60.5 213 72.5" stroke="#a0a0a0" stroke-width="2.6" fill="none" stroke-linejoin="round" stroke-linecap="round"/>
<path d="M128.6 102 Q169 95.5 211.3 102" stroke="#a0a0a0" stroke-width="2.6" fill="none" stroke-linejoin="round" stroke-linecap="round"/>
<path d="M128.4 127.2 Q169 124.2 212 127.2" stroke="#a0a0a0" stroke-width="2.6" fill="none" stroke-linejoin="round" stroke-linecap="round"/>
<path d="M127.2 153 Q169 149 213.2 153" stroke="#a0a0a0" stroke-width="2.6" fill="none" stroke-linejoin="round" stroke-linecap="round"/>
<path d="M137.7 174 Q140.5 176.5 139.4 180 Q136.6 186 135.2 191.5 Q133.8 197 136.5 198.9 L203.5 198.9 Q206.2 197 204.8 191.5 Q203.4 186 200.6 180 Q199.5 176.5 201 174" stroke="#a0a0a0" stroke-width="2.6" fill="none" stroke-linejoin="round" stroke-linecap="round"/>
<path d="M136.5 198.9 Q133.2 200.5 134 205 C137 214 155 219.6 169 219.6 C183 219.6 201 214 204.2 205 Q205 200.5 203.5 198.9" stroke="#a0a0a0" stroke-width="2.6" fill="none" stroke-linejoin="round" stroke-linecap="round"/>
<path d="M128.6 126.0C128.6 119.3 129.0 115.0 128.3 110.0C127.6 105.0 126.7 99.8 124.3 96.0C121.9 92.2 119.2 89.1 114.2 87.0C109.2 84.9 101.6 83.4 94.2 83.6C86.8 83.8 77.1 85.0 70.1 88.1C63.1 91.2 56.4 96.8 52.1 102.1C47.8 107.4 45.6 114.4 44.4 120.1C43.2 125.8 44.0 131.2 45.0 136.2C46.0 141.2 47.6 145.8 50.1 150.2C52.6 154.5 56.4 158.3 60.1 162.3C63.8 166.3 67.8 170.8 72.1 174.3C76.4 177.8 81.5 181.3 86.2 183.3C90.9 185.3 95.5 186.3 100.2 186.3C104.9 186.3 110.5 184.6 114.2 183.3C117.9 182.0 120.3 180.5 122.3 178.3C124.3 176.1 125.3 175.0 126.3 170.3C127.3 165.6 127.9 157.6 128.3 150.2C128.7 142.8 128.6 132.7 128.6 126.0Z" stroke="#a0a0a0" stroke-width="2.6" fill="none" stroke-linejoin="round" stroke-linecap="round"/>
<path d="M52.1 105.7 Q95 104 127.5 119.5" stroke="#a0a0a0" stroke-width="2.6" fill="none" stroke-linejoin="round" stroke-linecap="round"/>
<path d="M45 131.2 Q90 134 128 127.2" stroke="#a0a0a0" stroke-width="2.6" fill="none" stroke-linejoin="round" stroke-linecap="round"/>
<path d="M51.6 149.6 Q95 145 128 128.6" stroke="#a0a0a0" stroke-width="2.6" fill="none" stroke-linejoin="round" stroke-linecap="round"/>
<path d="M68.1 168.3 Q95 160 123.5 157.5" stroke="#a0a0a0" stroke-width="2.6" fill="none" stroke-linejoin="round" stroke-linecap="round"/>
<path d="M211.5 125.0C211.2 117.6 211.5 111.2 212.5 106.0C213.5 100.8 214.5 97.3 217.5 94.0C220.5 90.7 225.8 87.7 230.6 86.0C235.4 84.3 240.6 83.7 246.6 84.0C252.6 84.3 260.3 85.4 266.7 88.1C273.1 90.8 280.0 95.1 284.7 100.1C289.4 105.1 292.9 113.1 294.7 118.1C296.5 123.1 296.4 125.5 295.7 130.2C295.0 134.9 293.2 141.2 290.7 146.2C288.2 151.2 284.7 155.3 280.7 160.3C276.7 165.3 271.7 172.1 266.7 176.3C261.7 180.5 255.9 184.0 250.6 185.3C245.2 186.6 239.3 185.8 234.6 184.3C229.9 182.8 225.3 179.3 222.5 176.3C219.7 173.3 218.8 170.7 217.5 166.3C216.2 162.0 215.5 157.1 214.5 150.2C213.5 143.3 211.8 132.4 211.5 125.0Z" stroke="#a0a0a0" stroke-width="2.6" fill="none" stroke-linejoin="round" stroke-linecap="round"/>
<path d="M212.5 119.5 Q248 106 286.7 105.7" stroke="#a0a0a0" stroke-width="2.6" fill="none" stroke-linejoin="round" stroke-linecap="round"/>
<path d="M212.5 126.2 Q252 127 295 130.2" stroke="#a0a0a0" stroke-width="2.6" fill="none" stroke-linejoin="round" stroke-linecap="round"/>
<path d="M212.5 128 Q250 137 288.5 149.2" stroke="#a0a0a0" stroke-width="2.6" fill="none" stroke-linejoin="round" stroke-linecap="round"/>
<path d="M216 157.5 Q245 161 272.7 167.7" stroke="#a0a0a0" stroke-width="2.6" fill="none" stroke-linejoin="round" stroke-linecap="round"/>
<path d="M89.3 190.9C90.1 189.2 90.8 188.5 93.9 187.2C97.0 185.9 103.5 184.4 108.0 183.2C112.5 182.0 117.8 180.0 121.2 180.2C124.7 180.4 127.1 182.6 128.7 184.4C130.3 186.2 131.1 188.7 130.6 190.9C130.1 193.1 128.7 195.9 125.9 197.5C123.1 199.1 117.8 199.7 114.0 200.5C110.2 201.3 107.0 202.3 103.4 202.6C99.8 202.9 94.6 203.0 92.2 202.2C89.8 201.3 89.4 199.4 88.9 197.5C88.4 195.6 88.5 192.6 89.3 190.9Z" stroke="#a0a0a0" stroke-width="2.6" fill="none" stroke-linejoin="round" stroke-linecap="round"/>
<path d="M98.6 212.5C99.8 210.5 103.0 206.8 106.1 205.0C109.2 203.2 113.5 202.5 117.0 201.6C120.5 200.7 124.5 199.3 126.8 199.4C129.2 199.5 130.5 200.9 131.1 202.2C131.7 203.4 131.7 205.3 130.6 206.9C129.5 208.5 126.7 210.4 124.5 212.0C122.3 213.6 120.7 215.0 117.5 216.3C114.3 217.6 108.3 219.8 105.3 220.0C102.2 220.2 100.3 218.4 99.2 217.2C98.1 215.9 97.4 214.5 98.6 212.5Z" stroke="#a0a0a0" stroke-width="2.6" fill="none" stroke-linejoin="round" stroke-linecap="round"/>
<path d="M209.4 189.6C209.9 187.4 211.8 182.9 213.8 181.3C215.8 179.7 218.1 179.5 221.2 179.9C224.3 180.3 228.4 182.2 232.2 183.6C236.0 185.0 241.1 186.7 244.2 188.2C247.3 189.7 249.8 190.9 250.6 192.8C251.4 194.7 249.9 197.9 248.8 199.7C247.7 201.5 246.5 203.1 244.2 203.6C241.9 204.1 239.3 203.4 235.0 202.4C230.7 201.4 222.4 199.2 218.4 197.8C214.4 196.4 212.5 195.6 211.0 194.2C209.5 192.8 208.9 191.8 209.4 189.6Z" stroke="#a0a0a0" stroke-width="2.6" fill="none" stroke-linejoin="round" stroke-linecap="round"/>
<path d="M209.2 199.9C210.0 198.6 211.2 198.2 213.8 198.5C216.4 198.8 221.2 200.3 225.0 201.5C228.8 202.7 234.2 203.6 236.8 205.4C239.5 207.2 240.8 210.3 240.9 212.6C241.1 214.9 239.9 218.2 237.7 219.0C235.5 219.8 231.6 218.8 227.6 217.6C223.6 216.4 217.0 213.5 213.8 211.6C210.7 209.7 209.5 208.0 208.7 206.1C207.9 204.2 208.3 201.2 209.2 199.9Z" stroke="#a0a0a0" stroke-width="2.6" fill="none" stroke-linejoin="round" stroke-linecap="round"/>
<line x1="169.1" y1="19.8" x2="169.1" y2="219" stroke="#8e8e8e" stroke-width="1.4" stroke-dasharray="1.4 1.5"/>
<text x="178.5" y="42.7" font-size="16" >II</text>
<text x="178.5" y="64.0" font-size="16" >III</text>
<text x="175.5" y="90.6" font-size="16" >CUL</text>
<text x="175.4" y="119.1" font-size="16" >VI</text>
<text x="175.4" y="145.2" font-size="16" >VII</text>
<text x="175.4" y="170.3" font-size="16" >VIII</text>
<text x="175.4" y="192.3" font-size="16" >IX</text>
<text x="174.8" y="215.4" font-size="16" >X</text>
<text x="233.6" y="102.1" font-size="16" >SIM</text>
<text x="250.6" y="125.2" font-size="16" >AN1</text>
<text x="257.6" y="146.2" font-size="16" >AN2</text>
<text x="230.6" y="161.3" font-size="16" >PRM</text>
<text x="229.6" y="182.3" font-size="16" >COP</text>
<text x="228.6" y="198.4" font-size="16" >F</text>
<text x="218.5" y="215.4" font-size="16" >PF</text>
<path d="M202.7 9.3 L192 16.5" stroke="#000" stroke-width="2.2" stroke-linecap="round"/>
<path d="M183.1 23.6 L192.4 8.8 L193.9 16.2 L200 19.6Z" fill="#000"/>
<text x="205.5" y="11.8" font-size="16" >I</text>
<line x1="305" y1="109.6" x2="340" y2="109.6" stroke="#000" stroke-width="1.5"/>
<path d="M348.6 109.6 L331.8 102.9 L334.5 109.6 L331.8 117Z" fill="#000"/>
<line x1="395" y1="109.6" x2="430" y2="109.6" stroke="#000" stroke-width="1.5"/>
<path d="M438.8 109.6 L422 102.9 L424.7 109.6 L422 117Z" fill="#000"/>
<path d="M359.1 65.5 Q359.1 64.4 362 64.4 L372 64.4 Q374.8 64.4 374.8 65.5 L374.8 102.5 L359.1 102.5Z" fill="#7f7f7f"/>
<path d="M359.1 102.3 L374.8 102.3 L374.8 142 Q374.8 149.6 367 149.6 Q359.1 149.6 359.1 142Z" fill="#2aa7e0"/>
<ellipse cx="367" cy="103.6" rx="5.5" ry="1.2" fill="#6cc1ea"/>
<rect x="507.4" y="74.4" width="7.8" height="69" fill="#c8c8c8"/>
<rect x="507.4" y="100.2" width="45.3" height="15.7" fill="#c8c8c8"/>
<path d="M508.5 100.3 Q513 103 513 108.3 Q513 113.5 508.5 116.2 L500 116.2 L500 100.3Z" fill="#fff"/>
<circle cx="519.4" cy="108.3" r="5.4" fill="#fff"/>
<circle cx="532.6" cy="108.3" r="5.4" fill="#fff"/>
<circle cx="545.5" cy="108.3" r="5.4" fill="#fff"/>
<path d="M456.8 99.2 H491.4 V74.4 M499.9 74.4 V99.2 H505.8 V74.4 M516 74.4 V99.2 H552.7" stroke="#000" fill="none" stroke-width="1.1"/>
<path d="M516 74.4 V99.2 H552.7" stroke="#000" fill="none" stroke-width="1.6"/>
<path d="M456.8 116.9 H491.4 V143.4 M499.9 143.4 V116.9 H505.8 V143.4 M516 143.4 V116.9 H552.7" stroke="#000" fill="none" stroke-width="1.2"/>
<path d="M505.8 116.9 V143.4" stroke="#000" fill="none" stroke-width="1.6"/>
<circle cx="463" cy="108.3" r="2.1" fill="#e01010"/>
<circle cx="473" cy="108.3" r="2.1" fill="#10e8e8"/>
<circle cx="482.9" cy="108.3" r="2.1" fill="#f0f010"/>
<circle cx="493.1" cy="108.3" r="2.1" fill="#c03838"/>
<circle cx="503" cy="108.3" r="2.1" fill="#f010f0"/>
<circle cx="519.4" cy="108.3" r="2.0" fill="#30b040"/>
<circle cx="532.6" cy="108.3" r="2.0" fill="#101060"/>
<circle cx="545.5" cy="108.3" r="2.0" fill="#f09030"/>
<circle cx="498.3" cy="114.6" r="0.7" fill="#000"/>
<circle cx="495.2" cy="120.6" r="0.7" fill="#000"/>
<circle cx="496.6" cy="126" r="0.7" fill="#000"/>
<circle cx="495.2" cy="131.6" r="0.7" fill="#000"/>
<circle cx="496.6" cy="136.8" r="0.7" fill="#000"/>
<circle cx="495.2" cy="142.2" r="0.7" fill="#000"/>
<text x="326.0" y="173.7" font-size="20" textLength="73.8" lengthAdjust="spacingAndGlyphs" >Nucleus</text>
<text x="310.1" y="195.1" font-size="20" textLength="104.5" lengthAdjust="spacingAndGlyphs" >suspension</text>
<text x="320.7" y="218.4" font-size="20" textLength="83.7" lengthAdjust="spacingAndGlyphs" >by region</text>
<text x="454.1" y="173.8" font-size="20" textLength="105.3" lengthAdjust="spacingAndGlyphs" >snRNA-seq</text>
<text x="437.0" y="194.9" font-size="20" textLength="134.1" lengthAdjust="spacingAndGlyphs" >800,000 nuclei</text>
<text x="467.9" y="216.5" font-size="20" textLength="78.4" lengthAdjust="spacingAndGlyphs" >(pre-QC)</text>
<path d="M208.8 430.6C206.5 428.7 201.9 422.3 201.0 418.0C200.1 413.7 202.6 409.3 203.5 405.0C204.4 400.7 205.3 397.8 206.5 392.0C207.7 386.2 209.6 377.2 210.9 370.1C212.2 363.0 213.6 355.2 214.5 349.3C215.4 343.4 215.9 338.8 216.5 335.0C217.1 331.2 217.0 329.0 218.2 326.3C219.3 323.6 220.1 321.1 223.4 319.0C226.7 316.9 233.8 315.4 238.0 313.8C242.2 312.2 244.9 312.7 248.4 309.6C251.9 306.5 254.6 299.2 258.8 295.0C263.0 290.8 268.2 286.9 273.4 284.6C278.6 282.4 284.9 281.3 290.1 281.5C295.3 281.7 300.9 282.7 304.7 285.6C308.5 288.6 310.7 293.8 313.1 299.2C315.5 304.6 317.2 312.1 319.3 318.0C321.4 323.9 323.3 330.7 325.6 334.7C327.9 338.7 330.8 339.9 333.0 342.0C335.2 344.1 338.6 345.5 339.1 347.2C339.6 348.9 338.6 350.7 336.0 352.4C333.4 354.1 327.7 356.7 323.5 357.6C319.3 358.5 315.2 356.9 311.0 357.6C306.8 358.3 301.6 359.4 298.5 361.8C295.4 364.2 293.9 368.0 292.2 372.2C290.4 376.4 290.4 381.6 288.0 386.8C285.6 392.0 281.8 399.3 277.6 403.5C273.4 407.7 268.9 409.7 263.0 411.8C257.1 413.9 248.0 413.9 242.1 416.0C236.2 418.1 232.0 422.1 227.5 424.4C223.0 426.7 218.1 428.6 215.0 429.6C211.9 430.6 211.1 432.5 208.8 430.6Z" fill="#00C19F" />
<path d="M208.8 430.6C206.5 428.7 201.9 422.3 201.0 418.0C200.1 413.7 202.6 409.3 203.5 405.0C204.4 400.7 205.3 397.8 206.5 392.0C207.7 386.2 209.6 377.2 210.9 370.1C212.2 363.0 213.6 355.2 214.5 349.3C215.4 343.4 215.9 338.8 216.5 335.0C217.1 331.2 217.0 329.0 218.2 326.3C219.3 323.6 220.1 321.1 223.4 319.0C226.7 316.9 233.8 315.4 238.0 313.8C242.2 312.2 244.9 312.7 248.4 309.6C251.9 306.5 254.6 299.2 258.8 295.0C263.0 290.8 268.2 286.9 273.4 284.6C278.6 282.4 284.9 281.3 290.1 281.5C295.3 281.7 300.9 282.7 304.7 285.6C308.5 288.6 310.7 293.8 313.1 299.2C315.5 304.6 317.2 312.1 319.3 318.0C321.4 323.9 323.3 330.7 325.6 334.7C327.9 338.7 330.8 339.9 333.0 342.0C335.2 344.1 338.6 345.5 339.1 347.2C339.6 348.9 338.6 350.7 336.0 352.4C333.4 354.1 327.7 356.7 323.5 357.6C319.3 358.5 315.2 356.9 311.0 357.6C306.8 358.3 301.6 359.4 298.5 361.8C295.4 364.2 293.9 368.0 292.2 372.2C290.4 376.4 290.4 381.6 288.0 386.8C285.6 392.0 281.8 399.3 277.6 403.5C273.4 407.7 268.9 409.7 263.0 411.8C257.1 413.9 248.0 413.9 242.1 416.0C236.2 418.1 232.0 422.1 227.5 424.4C223.0 426.7 218.1 428.6 215.0 429.6C211.9 430.6 211.1 432.5 208.8 430.6Z" fill="none" stroke="#00C19F" stroke-width="1.5" stroke-dasharray="0.6 1.7" stroke-linecap="round"/>
<circle cx="307.8" cy="364.9" r="1.25" fill="#00C19F"/>
<circle cx="314.1" cy="361.4" r="1.25" fill="#00C19F"/>
<circle cx="301.8" cy="361.2" r="1.25" fill="#00C19F"/>
<path d="M18.1 369.6C17.0 368.3 18.2 364.6 18.9 362.7C19.6 360.8 20.1 359.5 22.4 358.4C24.7 357.3 30.1 357.1 32.7 356.2C35.3 355.3 36.1 354.3 37.8 353.2C39.5 352.1 41.8 349.6 43.0 349.8C44.2 350.0 43.8 352.9 45.1 354.5C46.4 356.1 48.8 357.3 50.7 359.2C52.6 361.1 55.9 364.0 56.3 365.7C56.7 367.4 54.6 368.1 53.3 369.6C51.9 371.1 50.4 373.9 48.2 374.7C46.1 375.5 42.7 375.1 40.4 374.7C38.1 374.3 36.8 372.8 34.4 372.1C32.0 371.4 28.5 370.8 25.8 370.4C23.1 370.0 19.2 370.9 18.1 369.6Z" fill="#FF61C3" />
<path d="M18.1 369.6C17.0 368.3 18.2 364.6 18.9 362.7C19.6 360.8 20.1 359.5 22.4 358.4C24.7 357.3 30.1 357.1 32.7 356.2C35.3 355.3 36.1 354.3 37.8 353.2C39.5 352.1 41.8 349.6 43.0 349.8C44.2 350.0 43.8 352.9 45.1 354.5C46.4 356.1 48.8 357.3 50.7 359.2C52.6 361.1 55.9 364.0 56.3 365.7C56.7 367.4 54.6 368.1 53.3 369.6C51.9 371.1 50.4 373.9 48.2 374.7C46.1 375.5 42.7 375.1 40.4 374.7C38.1 374.3 36.8 372.8 34.4 372.1C32.0 371.4 28.5 370.8 25.8 370.4C23.1 370.0 19.2 370.9 18.1 369.6Z" fill="none" stroke="#FF61C3" stroke-width="1.5" stroke-dasharray="0.6 1.7" stroke-linecap="round"/>
<path d="M436.7 248.1C438.1 248.0 443.0 251.0 446.1 252.8C449.2 254.6 453.6 256.8 455.6 258.9C457.6 261.0 458.2 263.4 458.3 265.7C458.4 267.9 457.8 270.6 456.2 272.4C454.6 274.2 450.9 276.7 448.8 276.5C446.7 276.3 444.6 273.4 443.4 271.1C442.2 268.9 442.3 265.9 441.4 263.0C440.5 260.1 438.8 256.0 438.0 253.5C437.2 251.0 435.3 248.2 436.7 248.1Z" fill="#E88526" />
<path d="M436.7 248.1C438.1 248.0 443.0 251.0 446.1 252.8C449.2 254.6 453.6 256.8 455.6 258.9C457.6 261.0 458.2 263.4 458.3 265.7C458.4 267.9 457.8 270.6 456.2 272.4C454.6 274.2 450.9 276.7 448.8 276.5C446.7 276.3 444.6 273.4 443.4 271.1C442.2 268.9 442.3 265.9 441.4 263.0C440.5 260.1 438.8 256.0 438.0 253.5C437.2 251.0 435.3 248.2 436.7 248.1Z" fill="none" stroke="#E88526" stroke-width="1.5" stroke-dasharray="0.6 1.7" stroke-linecap="round"/>
<circle cx="441.5" cy="262" r="0.9" fill="#F8766D"/><circle cx="441.8" cy="266" r="0.9" fill="#F8766D"/>
<path d="M400.9 286.6C401.6 286.4 401.4 290.6 402.9 292.7C404.4 294.8 408.1 296.9 409.7 299.4C411.3 301.9 412.4 304.8 412.6 307.5C412.8 310.2 412.4 313.4 411.0 315.6C409.6 317.8 406.6 320.7 404.3 320.7C402.1 320.7 398.9 318.2 397.5 315.6C396.1 313.0 395.7 308.4 395.9 304.8C396.1 301.2 398.1 297.0 398.9 294.0C399.7 291.0 400.2 286.8 400.9 286.6Z" fill="#F8766D" />
<path d="M400.9 286.6C401.6 286.4 401.4 290.6 402.9 292.7C404.4 294.8 408.1 296.9 409.7 299.4C411.3 301.9 412.4 304.8 412.6 307.5C412.8 310.2 412.4 313.4 411.0 315.6C409.6 317.8 406.6 320.7 404.3 320.7C402.1 320.7 398.9 318.2 397.5 315.6C396.1 313.0 395.7 308.4 395.9 304.8C396.1 301.2 398.1 297.0 398.9 294.0C399.7 291.0 400.2 286.8 400.9 286.6Z" fill="none" stroke="#F8766D" stroke-width="1.5" stroke-dasharray="0.6 1.7" stroke-linecap="round"/>
<path d="M406.7 386.2C406.8 385.4 407.0 384.0 407.6 382.5C408.2 381.0 409.2 378.4 410.4 377.0C411.6 375.6 413.3 375.0 415.0 374.2C416.7 373.4 418.7 373.0 420.5 372.4C422.3 371.8 424.4 370.7 426.0 370.5C427.6 370.3 429.4 370.3 430.2 371.4C431.0 372.5 431.0 375.1 430.6 377.0C430.2 378.9 429.1 381.3 427.9 382.5C426.7 383.7 424.9 383.9 423.2 384.3C421.5 384.7 419.1 384.3 417.7 384.8C416.3 385.3 415.6 386.1 415.0 387.1C414.4 388.1 414.2 389.6 414.0 390.8C413.8 392.0 414.0 393.9 413.6 394.4C413.2 394.8 411.9 394.4 411.7 393.5C411.5 392.6 412.6 389.8 412.2 388.9C411.8 388.0 410.2 388.2 409.4 388.0C408.5 387.8 407.6 387.8 407.1 387.5C406.7 387.2 406.6 387.0 406.7 386.2Z" fill="#5EB300" />
<path d="M406.7 386.2C406.8 385.4 407.0 384.0 407.6 382.5C408.2 381.0 409.2 378.4 410.4 377.0C411.6 375.6 413.3 375.0 415.0 374.2C416.7 373.4 418.7 373.0 420.5 372.4C422.3 371.8 424.4 370.7 426.0 370.5C427.6 370.3 429.4 370.3 430.2 371.4C431.0 372.5 431.0 375.1 430.6 377.0C430.2 378.9 429.1 381.3 427.9 382.5C426.7 383.7 424.9 383.9 423.2 384.3C421.5 384.7 419.1 384.3 417.7 384.8C416.3 385.3 415.6 386.1 415.0 387.1C414.4 388.1 414.2 389.6 414.0 390.8C413.8 392.0 414.0 393.9 413.6 394.4C413.2 394.8 411.9 394.4 411.7 393.5C411.5 392.6 412.6 389.8 412.2 388.9C411.8 388.0 410.2 388.2 409.4 388.0C408.5 387.8 407.6 387.8 407.1 387.5C406.7 387.2 406.6 387.0 406.7 386.2Z" fill="none" stroke="#5EB300" stroke-width="1.5" stroke-dasharray="0.6 1.7" stroke-linecap="round"/>
<circle cx="406.2" cy="392.6" r="1.6" fill="#5EB300"/>
<circle cx="405.6" cy="393.8" r="1.3" fill="#5EB300"/>
<circle cx="403.9" cy="395.8" r="1.2" fill="#93AA00"/>
<circle cx="409.9" cy="398.6" r="1.2" fill="#5EB300"/>
<circle cx="408.6" cy="400.5" r="1.3" fill="#5EB300"/>
<circle cx="407.6" cy="401.8" r="1.3" fill="#5EB300"/>
<circle cx="404.4" cy="402.7" r="1.5" fill="#93AA00"/>
<circle cx="412.7" cy="396.3" r="1.2" fill="#D39200"/>
<circle cx="413.2" cy="393.5" r="1.1" fill="#5EB300"/>
<path d="M399.8 402.7C400.2 403.1 400.9 403.7 400.7 404.6C400.5 405.5 399.4 407.1 398.4 408.3C397.4 409.5 395.4 410.6 394.7 411.9C394.0 413.2 394.8 414.7 394.3 416.1C393.9 417.5 392.9 419.3 392.0 420.2C391.1 421.1 390.4 421.9 389.2 421.6C388.0 421.3 385.5 419.5 384.6 418.4C383.8 417.3 383.5 416.1 384.1 415.2C384.7 414.3 387.0 413.9 388.3 412.9C389.6 411.9 390.8 410.4 392.0 409.2C393.2 408.0 394.5 406.6 395.6 405.5C396.7 404.4 397.7 402.8 398.4 402.3C399.1 401.8 399.4 402.3 399.8 402.7Z" fill="#93AA00" />
<path d="M399.8 402.7C400.2 403.1 400.9 403.7 400.7 404.6C400.5 405.5 399.4 407.1 398.4 408.3C397.4 409.5 395.4 410.6 394.7 411.9C394.0 413.2 394.8 414.7 394.3 416.1C393.9 417.5 392.9 419.3 392.0 420.2C391.1 421.1 390.4 421.9 389.2 421.6C388.0 421.3 385.5 419.5 384.6 418.4C383.8 417.3 383.5 416.1 384.1 415.2C384.7 414.3 387.0 413.9 388.3 412.9C389.6 411.9 390.8 410.4 392.0 409.2C393.2 408.0 394.5 406.6 395.6 405.5C396.7 404.4 397.7 402.8 398.4 402.3C399.1 401.8 399.4 402.3 399.8 402.7Z" fill="none" stroke="#93AA00" stroke-width="1.5" stroke-dasharray="0.6 1.7" stroke-linecap="round"/>
<circle cx="397.5" cy="405.5" r="1.1" fill="#5EB300"/>
<circle cx="396.2" cy="407.4" r="1.1" fill="#5EB300"/>
<circle cx="398.6" cy="404.2" r="1.1" fill="#5EB300"/>
<path d="M423.2 419.3C424.3 418.8 425.8 420.3 427.9 421.1C430.0 421.9 434.9 423.0 436.1 423.9C437.3 424.8 436.3 425.5 435.2 426.7C434.1 427.9 431.5 429.9 429.7 431.3C427.9 432.7 425.7 434.4 424.2 434.9C422.7 435.4 421.2 435.4 420.5 434.5C419.8 433.6 419.9 431.2 420.0 429.4C420.1 427.6 420.9 425.6 421.4 423.9C421.9 422.2 422.1 419.8 423.2 419.3Z" fill="#B79F00" />
<path d="M423.2 419.3C424.3 418.8 425.8 420.3 427.9 421.1C430.0 421.9 434.9 423.0 436.1 423.9C437.3 424.8 436.3 425.5 435.2 426.7C434.1 427.9 431.5 429.9 429.7 431.3C427.9 432.7 425.7 434.4 424.2 434.9C422.7 435.4 421.2 435.4 420.5 434.5C419.8 433.6 419.9 431.2 420.0 429.4C420.1 427.6 420.9 425.6 421.4 423.9C421.9 422.2 422.1 419.8 423.2 419.3Z" fill="none" stroke="#B79F00" stroke-width="1.5" stroke-dasharray="0.6 1.7" stroke-linecap="round"/>
<circle cx="412.7" cy="410.1" r="1.25" fill="#93AA00"/>
<circle cx="416.3" cy="411" r="1.25" fill="#93AA00"/>
<circle cx="419.1" cy="414.7" r="1.25" fill="#93AA00"/>
<circle cx="422.8" cy="418.4" r="1.25" fill="#5EB300"/>
<circle cx="425.5" cy="421.6" r="1.25" fill="#93AA00"/>
<circle cx="464" cy="401.6" r="1.4" fill="#D39200"/><circle cx="465.4" cy="403.6" r="1.3" fill="#00BFC4"/>
<circle cx="449.5" cy="458.3" r="1.4" fill="#F564E3"/><circle cx="450.7" cy="459.6" r="1.0" fill="#00BA38"/>
<path d="M373.6 500.1C374.6 498.1 376.4 495.1 378.5 492.8C380.6 490.6 383.4 488.6 385.9 486.6C388.4 484.7 390.6 481.9 393.3 481.1C396.0 480.3 399.8 480.6 401.8 481.7C403.8 482.8 404.7 485.8 405.5 487.9C406.3 489.9 407.5 492.2 406.7 494.0C405.9 495.8 402.8 497.3 400.6 498.9C398.4 500.5 396.0 502.1 393.3 503.8C390.6 505.5 387.2 507.9 384.7 509.3C382.2 510.7 380.4 512.1 378.5 512.4C376.6 512.7 374.6 512.4 373.6 511.2C372.6 510.0 372.4 506.9 372.4 505.0C372.4 503.1 372.6 502.1 373.6 500.1Z" fill="#AE87FF" />
<path d="M373.6 500.1C374.6 498.1 376.4 495.1 378.5 492.8C380.6 490.6 383.4 488.6 385.9 486.6C388.4 484.7 390.6 481.9 393.3 481.1C396.0 480.3 399.8 480.6 401.8 481.7C403.8 482.8 404.7 485.8 405.5 487.9C406.3 489.9 407.5 492.2 406.7 494.0C405.9 495.8 402.8 497.3 400.6 498.9C398.4 500.5 396.0 502.1 393.3 503.8C390.6 505.5 387.2 507.9 384.7 509.3C382.2 510.7 380.4 512.1 378.5 512.4C376.6 512.7 374.6 512.4 373.6 511.2C372.6 510.0 372.4 506.9 372.4 505.0C372.4 503.1 372.6 502.1 373.6 500.1Z" fill="none" stroke="#AE87FF" stroke-width="1.5" stroke-dasharray="0.6 1.7" stroke-linecap="round"/>
<path d="M365.6 448.6 Q368 452 369.9 453.5 Q375 457 379.8 460.2 Q385 464 388.3 467 Q391.5 470 393.9 472.5" stroke="#F564E3" stroke-width="2.3" fill="none" stroke-linecap="round"/>
<path d="M396 476 Q401.5 481.5 404.3 489" stroke="#F564E3" stroke-width="3.4" fill="none" stroke-linecap="round"/>
<path d="M393.2 479.8 L397.2 482.6" stroke="#F564E3" stroke-width="2.4" fill="none" stroke-linecap="round"/>
<path d="M321.2 509.5 L324.5 513 L330 507.4" stroke="#FF699C" stroke-width="2.6" fill="none" stroke-linecap="round" stroke-linejoin="round"/>
<path d="M167.2 529.9C167.8 528.9 169.5 527.8 171.0 527.2C172.5 526.6 174.5 526.2 176.0 526.1C177.5 526.0 178.6 526.9 179.9 526.9C181.2 526.9 182.3 526.3 183.7 526.4C185.1 526.5 186.9 526.6 188.2 527.7C189.5 528.9 190.4 532.0 191.5 533.3C192.6 534.6 193.2 534.6 194.8 535.5C196.5 536.4 199.6 537.5 201.4 538.8C203.2 540.1 204.0 541.5 205.8 543.2C207.7 545.0 210.6 547.3 212.5 549.3C214.4 551.3 216.6 553.5 217.4 555.3C218.2 557.1 218.4 559.3 217.4 560.3C216.4 561.3 213.8 561.4 211.4 561.4C209.0 561.4 206.0 561.2 203.1 560.3C200.2 559.4 197.0 557.4 194.2 555.9C191.3 554.4 188.8 553.1 186.0 551.5C183.2 549.9 179.8 548.1 177.7 546.5C175.6 544.9 174.3 543.4 173.3 542.1C172.3 540.8 172.5 540.3 171.6 538.8C170.7 537.3 168.4 534.8 167.7 533.3C167.0 531.8 166.6 530.9 167.2 529.9Z" fill="#00ADFA" />
<path d="M167.2 529.9C167.8 528.9 169.5 527.8 171.0 527.2C172.5 526.6 174.5 526.2 176.0 526.1C177.5 526.0 178.6 526.9 179.9 526.9C181.2 526.9 182.3 526.3 183.7 526.4C185.1 526.5 186.9 526.6 188.2 527.7C189.5 528.9 190.4 532.0 191.5 533.3C192.6 534.6 193.2 534.6 194.8 535.5C196.5 536.4 199.6 537.5 201.4 538.8C203.2 540.1 204.0 541.5 205.8 543.2C207.7 545.0 210.6 547.3 212.5 549.3C214.4 551.3 216.6 553.5 217.4 555.3C218.2 557.1 218.4 559.3 217.4 560.3C216.4 561.3 213.8 561.4 211.4 561.4C209.0 561.4 206.0 561.2 203.1 560.3C200.2 559.4 197.0 557.4 194.2 555.9C191.3 554.4 188.8 553.1 186.0 551.5C183.2 549.9 179.8 548.1 177.7 546.5C175.6 544.9 174.3 543.4 173.3 542.1C172.3 540.8 172.5 540.3 171.6 538.8C170.7 537.3 168.4 534.8 167.7 533.3C167.0 531.8 166.6 530.9 167.2 529.9Z" fill="none" stroke="#00ADFA" stroke-width="1.5" stroke-dasharray="0.6 1.7" stroke-linecap="round"/>
<path d="M181.0 526.9C181.3 526.0 182.9 526.2 184.0 526.3C185.1 526.3 186.5 526.3 187.6 527.2C188.7 528.1 189.7 530.3 190.3 531.5C190.9 532.7 191.6 533.9 191.0 534.4C190.4 534.9 188.1 534.9 187.0 534.8C185.9 534.7 185.1 534.5 184.3 534.0C183.5 533.5 182.6 532.7 182.0 531.5C181.4 530.3 180.7 527.8 181.0 526.9Z" fill="#6AA0FF" />
<path d="M181.0 526.9C181.3 526.0 182.9 526.2 184.0 526.3C185.1 526.3 186.5 526.3 187.6 527.2C188.7 528.1 189.7 530.3 190.3 531.5C190.9 532.7 191.6 533.9 191.0 534.4C190.4 534.9 188.1 534.9 187.0 534.8C185.9 534.7 185.1 534.5 184.3 534.0C183.5 533.5 182.6 532.7 182.0 531.5C181.4 530.3 180.7 527.8 181.0 526.9Z" fill="none" stroke="#6AA0FF" stroke-width="1.5" stroke-dasharray="0.6 1.7" stroke-linecap="round"/>
<circle cx="175.3" cy="529.0" r="1.05" fill="#619CFF"/>
<circle cx="178.0" cy="530.0" r="1.05" fill="#619CFF"/>
<circle cx="172.5" cy="532.2" r="1.05" fill="#619CFF"/>
<circle cx="169.5" cy="531.0" r="1.05" fill="#619CFF"/>
<circle cx="173.5" cy="535.0" r="1.05" fill="#619CFF"/>
<circle cx="177.2" cy="537.8" r="1.05" fill="#619CFF"/>
<circle cx="179.8" cy="537.8" r="1.05" fill="#619CFF"/>
<circle cx="187.3" cy="537.8" r="1.05" fill="#619CFF"/>
<circle cx="191.0" cy="541.0" r="1.05" fill="#619CFF"/>
<circle cx="194.0" cy="539.3" r="1.05" fill="#619CFF"/>
<circle cx="174.0" cy="541.0" r="1.05" fill="#619CFF"/>
<circle cx="183.5" cy="532.5" r="1.05" fill="#619CFF"/>
<path d="M279.3 551.5C279.5 550.1 280.1 549.5 281.5 548.7C282.9 547.9 286.1 546.4 287.9 546.5C289.7 546.6 290.6 548.1 292.2 549.4C293.8 550.7 296.0 553.0 297.2 554.4C298.4 555.8 299.3 556.8 299.4 558.0C299.5 559.2 298.9 560.5 298.0 561.5C297.1 562.5 295.5 563.2 293.7 563.7C291.9 564.2 289.2 565.0 287.2 564.8C285.2 564.6 282.7 563.6 281.5 562.3C280.3 561.0 280.5 559.0 280.1 557.2C279.7 555.4 279.1 552.9 279.3 551.5Z" fill="#619CFF" />
<path d="M279.3 551.5C279.5 550.1 280.1 549.5 281.5 548.7C282.9 547.9 286.1 546.4 287.9 546.5C289.7 546.6 290.6 548.1 292.2 549.4C293.8 550.7 296.0 553.0 297.2 554.4C298.4 555.8 299.3 556.8 299.4 558.0C299.5 559.2 298.9 560.5 298.0 561.5C297.1 562.5 295.5 563.2 293.7 563.7C291.9 564.2 289.2 565.0 287.2 564.8C285.2 564.6 282.7 563.6 281.5 562.3C280.3 561.0 280.5 559.0 280.1 557.2C279.7 555.4 279.1 552.9 279.3 551.5Z" fill="none" stroke="#619CFF" stroke-width="1.5" stroke-dasharray="0.6 1.7" stroke-linecap="round"/>
<path d="M266.4 524.3C266.8 524.1 267.1 523.6 268.6 525.0C270.1 526.4 273.2 530.1 275.4 532.5C277.5 534.9 279.5 537.1 281.5 539.3C283.5 541.5 285.5 543.8 287.2 545.8C288.9 547.8 291.0 549.8 291.5 551.5C292.0 553.2 290.5 554.5 290.1 555.8C289.8 557.1 290.0 558.7 289.4 559.4C288.8 560.1 287.1 560.6 286.5 559.8C285.9 559.0 286.4 556.2 285.8 554.4C285.2 552.5 284.1 550.6 282.9 548.7C281.7 546.8 280.2 545.0 278.6 542.9C277.1 540.8 275.4 538.1 273.6 535.8C271.8 533.5 269.1 530.9 267.9 529.3C266.6 527.7 266.4 527.2 266.1 526.4C265.9 525.6 266.0 524.5 266.4 524.3Z" fill="#DB72FB" />
<path d="M266.4 524.3C266.8 524.1 267.1 523.6 268.6 525.0C270.1 526.4 273.2 530.1 275.4 532.5C277.5 534.9 279.5 537.1 281.5 539.3C283.5 541.5 285.5 543.8 287.2 545.8C288.9 547.8 291.0 549.8 291.5 551.5C292.0 553.2 290.5 554.5 290.1 555.8C289.8 557.1 290.0 558.7 289.4 559.4C288.8 560.1 287.1 560.6 286.5 559.8C285.9 559.0 286.4 556.2 285.8 554.4C285.2 552.5 284.1 550.6 282.9 548.7C281.7 546.8 280.2 545.0 278.6 542.9C277.1 540.8 275.4 538.1 273.6 535.8C271.8 533.5 269.1 530.9 267.9 529.3C266.6 527.7 266.4 527.2 266.1 526.4C265.9 525.6 266.0 524.5 266.4 524.3Z" fill="none" stroke="#DB72FB" stroke-width="1.5" stroke-dasharray="0.6 1.7" stroke-linecap="round"/>
<ellipse cx="295.2" cy="556" rx="1.6" ry="2.2" fill="#DB72FB" transform="rotate(-30 295.2 556)"/>
<path d="M349.5 542.2C350.0 542.1 351.0 542.5 351.7 543.6C352.4 544.7 353.3 547.0 353.8 548.7C354.3 550.4 354.8 552.2 354.6 553.7C354.4 555.2 353.5 556.7 352.4 558.0C351.3 559.3 349.2 560.8 348.1 561.5C347.0 562.2 346.6 562.6 345.6 562.3C344.7 561.9 342.8 560.2 342.4 559.4C342.0 558.5 342.4 557.7 343.1 557.2C343.8 556.7 345.8 557.1 346.7 556.5C347.6 555.9 348.5 555.0 348.8 553.7C349.1 552.4 348.6 550.2 348.5 548.7C348.4 547.2 348.3 545.5 348.5 544.4C348.7 543.3 349.0 542.3 349.5 542.2Z" fill="#00BF74" />
<path d="M349.5 542.2C350.0 542.1 351.0 542.5 351.7 543.6C352.4 544.7 353.3 547.0 353.8 548.7C354.3 550.4 354.8 552.2 354.6 553.7C354.4 555.2 353.5 556.7 352.4 558.0C351.3 559.3 349.2 560.8 348.1 561.5C347.0 562.2 346.6 562.6 345.6 562.3C344.7 561.9 342.8 560.2 342.4 559.4C342.0 558.5 342.4 557.7 343.1 557.2C343.8 556.7 345.8 557.1 346.7 556.5C347.6 555.9 348.5 555.0 348.8 553.7C349.1 552.4 348.6 550.2 348.5 548.7C348.4 547.2 348.3 545.5 348.5 544.4C348.7 543.3 349.0 542.3 349.5 542.2Z" fill="none" stroke="#00BF74" stroke-width="1.5" stroke-dasharray="0.6 1.7" stroke-linecap="round"/>
<path d="M236.5 619.3 L243.6 611.8" stroke="#00B9E3" stroke-width="2.2" stroke-linecap="round"/>
<circle cx="161" cy="460.4" r="1.2" fill="#B79F00"/>
<text x="342.8" y="270.0" font-size="20" textLength="94.5" lengthAdjust="spacingAndGlyphs" >Bergmann</text>
<text x="363.8" y="339.2" font-size="20" textLength="87.0" lengthAdjust="spacingAndGlyphs" >Astrocyte</text>
<text x="225.5" y="360.1" font-size="20" textLength="70.9" lengthAdjust="spacingAndGlyphs" >Granule</text>
<text x="21.1" y="393.6" font-size="20" textLength="73.1" lengthAdjust="spacingAndGlyphs" >Purkinje</text>
<text x="433.1" y="370.6" font-size="20" textLength="45.1" lengthAdjust="spacingAndGlyphs" >Stalk</text>
<text x="470.4" y="401.2" font-size="20" textLength="71.4" lengthAdjust="spacingAndGlyphs" >Choroid</text>
<text x="328.9" y="418.8" font-size="20" textLength="50.4" lengthAdjust="spacingAndGlyphs" >Mural</text>
<text x="439.5" y="439.7" font-size="20" textLength="91.1" lengthAdjust="spacingAndGlyphs" >Fibroblast</text>
<text x="318.2" y="459.4" font-size="20" textLength="42.8" lengthAdjust="spacingAndGlyphs" >OPC</text>
<text x="415.4" y="473.4" font-size="20" textLength="103.2" lengthAdjust="spacingAndGlyphs" >Ependymal</text>
<text x="290.0" y="501.4" font-size="20" textLength="42.9" lengthAdjust="spacingAndGlyphs" >UBC</text>
<text x="392.0" y="518.5" font-size="20" textLength="44.0" lengthAdjust="spacingAndGlyphs" >ODC</text>
<text x="240.2" y="518.7" font-size="20" textLength="28.4" lengthAdjust="spacingAndGlyphs" >PLI</text>
<text x="122.6" y="529.0" font-size="20" textLength="43.6" lengthAdjust="spacingAndGlyphs" >MLI1</text>
<text x="359.4" y="559.9" font-size="20" textLength="47.4" lengthAdjust="spacingAndGlyphs" >Golgi</text>
<text x="282.4" y="582.8" font-size="20" textLength="44.2" lengthAdjust="spacingAndGlyphs" >MLI2</text>
<text x="239.5" y="605.8" font-size="20" textLength="82.5" lengthAdjust="spacingAndGlyphs" >Microglia</text>
<text x="205.8" y="635.6" font-size="20" textLength="115.5" lengthAdjust="spacingAndGlyphs" >Macrophage</text>
<defs>
<clipPath id="ci0"><rect x="9.1" y="681.2" width="81.5" height="109.4"/></clipPath>
<clipPath id="ci1"><rect x="93.6" y="681.2" width="81.5" height="108.8"/></clipPath>
<clipPath id="ci2"><rect x="177.5" y="681.2" width="81.5" height="108.8"/></clipPath>
<clipPath id="ci3"><rect x="262.0" y="682.0" width="80.3" height="108.5"/></clipPath>
<clipPath id="ci4"><rect x="345.2" y="682.0" width="81.6" height="108.5"/></clipPath>
<clipPath id="ci5"><rect x="429.3" y="682.0" width="81.4" height="108.5"/></clipPath>
<clipPath id="ci6"><rect x="513.3" y="681.5" width="79.5" height="109.0"/></clipPath>
<filter id="nPink" x="0" y="0" width="100%" height="100%" color-interpolation-filters="sRGB"><feTurbulence type="fractalNoise" baseFrequency="0.45" numOctaves="2" seed="2"/><feColorMatrix type="matrix" values="0 0 0 0 0.62 0 0 0 0 0.42 0 0 0 0 0.62 2.6 0 0 0 -1.0"/></filter>
<filter id="nLight" x="0" y="0" width="100%" height="100%" color-interpolation-filters="sRGB"><feTurbulence type="fractalNoise" baseFrequency="0.5" numOctaves="2" seed="5"/><feColorMatrix type="matrix" values="0 0 0 0 1 0 0 0 0 1 0 0 0 0 1 3.0 0 0 0 -1.2"/></filter>
<filter id="nSpeck" x="0" y="0" width="100%" height="100%" color-interpolation-filters="sRGB"><feTurbulence type="fractalNoise" baseFrequency="0.8" numOctaves="1" seed="11"/><feColorMatrix type="matrix" values="0 0 0 0 0.55 0 0 0 0 0.38 0 0 0 0 0.55 9.0 0 0 0 -6.0"/></filter>
<filter id="nSpeck2" x="0" y="0" width="100%" height="100%" color-interpolation-filters="sRGB"><feTurbulence type="fractalNoise" baseFrequency="0.9" numOctaves="1" seed="13"/><feColorMatrix type="matrix" values="0 0 0 0 0.45 0 0 0 0 0.35 0 0 0 0 0.6 9.0 0 0 0 -5.9"/></filter>
<filter id="nBand" x="0" y="0" width="100%" height="100%" color-interpolation-filters="sRGB"><feTurbulence type="fractalNoise" baseFrequency="0.55" numOctaves="2" seed="4"/><feColorMatrix type="matrix" values="0 0 0 0 0.22 0 0 0 0 0.14 0 0 0 0 0.32 3.5 0 0 0 -1.4"/></filter>
<filter id="nTan" x="0" y="0" width="100%" height="100%" color-interpolation-filters="sRGB"><feTurbulence type="fractalNoise" baseFrequency="0.4" numOctaves="2" seed="6"/><feColorMatrix type="matrix" values="0 0 0 0 0.6 0 0 0 0 0.47 0 0 0 0 0.45 2.6 0 0 0 -1.05"/></filter>
<filter id="nGrey" x="0" y="0" width="100%" height="100%" color-interpolation-filters="sRGB"><feTurbulence type="fractalNoise" baseFrequency="0.4" numOctaves="2" seed="9"/><feColorMatrix type="matrix" values="0 0 0 0 0.55 0 0 0 0 0.45 0 0 0 0 0.55 2.6 0 0 0 -1.05"/></filter>
<filter id="blur1" x="-10%" y="-10%" width="120%" height="120%"><feGaussianBlur stdDeviation="1.3"/></filter>
<filter id="blur2" x="-10%" y="-10%" width="120%" height="120%"><feGaussianBlur stdDeviation="2.2"/></filter>
<clipPath id="r1g"><path d="M9.1 681.2 L40.5 681.2 C44 700 48.5 715 48.5 735 C48.5 755 46.5 770 42.5 790.6 L9.1 790.6Z"/></clipPath>
<clipPath id="r2b"><path d="M106 681 L131.8 681 C131 700 126 720 123 745 C121 765 114 780 111 790.5 L93.6 790.5 C95 770 97 745 100.5 725 C103 705 105 690 106 681Z"/></clipPath>
<clipPath id="r4g"><path d="M262.0 682.0 L270 682.0 C285 695 293 715 296 740 C298 760 298 775 298 790.5 L262.0 790.5Z"/></clipPath>
<clipPath id="r6t"><path d="M429.3 682.0 L470.5 682.0 C472 700 477 720 477.6 740 C478 755 476 765 470 770 C462 775 450 774 443 767 C437 762 432 757 429.3 752Z"/></clipPath>
<clipPath id="r7g"><path d="M513.3 681.5 L548.6 681.5 C547.5 720 548 750 549 765 C550 775 552 785 554.5 790.5 L513.3 790.5Z"/></clipPath>
</defs>
<g clip-path="url(#ci0)"><rect x="9.1" y="681.2" width="81.5" height="109.4" fill="#f4eef2"/><path d="M9.1 681.2 L40.5 681.2 C44 700 48.5 715 48.5 735 C48.5 755 46.5 770 42.5 790.6 L9.1 790.6Z" fill="#dcc6dc"/><g clip-path="url(#r1g)"><rect x="9.1" y="681.2" width="81.5" height="109.4" filter="url(#nPink)" opacity="0.75"/></g><g clip-path="url(#r1g)"><rect x="9.1" y="681.2" width="81.5" height="109.4" filter="url(#nLight)" opacity="0.35"/></g><rect x="9.1" y="681.2" width="81.5" height="109.4" filter="url(#nSpeck)" opacity="0.6"/><ellipse cx="39.8" cy="684.8" rx="2.6" ry="3.0" fill="#1d1530"/><ellipse cx="41.7" cy="692.5" rx="2.3" ry="2.7" fill="#1d1530"/><ellipse cx="44.0" cy="698.6" rx="2.7" ry="3.1" fill="#1d1530"/><ellipse cx="45.2" cy="705.0" rx="2.8" ry="3.2" fill="#1d1530"/><ellipse cx="46.5" cy="713.0" rx="2.4" ry="2.8" fill="#1d1530"/><ellipse cx="47.6" cy="720.5" rx="2.3" ry="2.6" fill="#1d1530"/><ellipse cx="47.9" cy="727.5" rx="2.1" ry="2.4" fill="#1d1530"/><ellipse cx="48.4" cy="734.0" rx="2.6" ry="3.0" fill="#1d1530"/><ellipse cx="48.3" cy="741.0" rx="2.3" ry="2.6" fill="#1d1530"/><ellipse cx="47.1" cy="748.5" rx="2.7" ry="3.2" fill="#1d1530"/><ellipse cx="47.4" cy="755.5" rx="2.7" ry="3.2" fill="#1d1530"/><ellipse cx="46.3" cy="763.2" rx="2.4" ry="2.7" fill="#1d1530"/><ellipse cx="45.3" cy="770.5" rx="2.9" ry="3.3" fill="#1d1530"/><ellipse cx="43.8" cy="777.5" rx="2.2" ry="2.5" fill="#1d1530"/><ellipse cx="42.7" cy="784.5" rx="2.8" ry="3.2" fill="#1d1530"/></g>
<g clip-path="url(#ci1)"><rect x="93.6" y="681.2" width="81.5" height="108.8" fill="#ece8f0"/><path d="M93.6 681.2 L101 681.2 L97 740 L93.6 790Z" fill="#efeaef"/><path d="M106 681 L131.8 681 C131 700 126 720 123 745 C121 765 114 780 111 790.5 L93.6 790.5 C95 770 97 745 100.5 725 C103 705 105 690 106 681Z" fill="#8a7aa2" stroke="#8a7aa2" stroke-width="2.5" filter="url(#blur1)"/><g clip-path="url(#r2b)"><rect x="93.6" y="681.2" width="81.5" height="108.8" filter="url(#nLight)" opacity="0.5"/></g><g clip-path="url(#r2b)"><rect x="93.6" y="681.2" width="81.5" height="108.8" filter="url(#nBand)" opacity="0.62"/></g><rect x="93.6" y="681.2" width="81.5" height="108.8" filter="url(#nSpeck2)" opacity="0.5"/></g>
<g clip-path="url(#ci2)"><rect x="177.5" y="681.2" width="81.5" height="108.8" fill="#ece7ef"/><path d="M184 681.2 L219 681.2 C219 720 221 760 223 790 L196 790 C190 760 186 720 184 681.2Z" fill="#dcd3ea" filter="url(#blur2)"/><path d="M177.5 681.2 L185 681.2 C186 720 190 760 196 790 L177.5 790Z" fill="#eeeaf0"/><rect x="177.5" y="681.2" width="81.5" height="108.8" filter="url(#nSpeck2)" opacity="0.5"/><circle cx="188.8" cy="689.3" r="1.5" fill="#2a2440"/><circle cx="188.8" cy="697.8" r="1.5" fill="#2a2440"/><circle cx="199.4" cy="682.1" r="1.5" fill="#2a2440"/><circle cx="211.9" cy="689.7" r="1.5" fill="#2a2440"/><circle cx="216.1" cy="687.1" r="1.5" fill="#2a2440"/><circle cx="208.3" cy="702.7" r="1.5" fill="#2a2440"/><circle cx="199.4" cy="712.1" r="1.5" fill="#2a2440"/><circle cx="196.5" cy="722.4" r="1.5" fill="#2a2440"/><circle cx="208.0" cy="722.8" r="1.5" fill="#2a2440"/><circle cx="198.3" cy="733.4" r="1.5" fill="#2a2440"/><circle cx="200.2" cy="737.1" r="1.5" fill="#2a2440"/><circle cx="201.4" cy="743.9" r="1.5" fill="#2a2440"/><circle cx="199.4" cy="761.1" r="1.5" fill="#2a2440"/><circle cx="201.6" cy="768.0" r="1.5" fill="#2a2440"/><circle cx="200.5" cy="782.4" r="1.5" fill="#2a2440"/><circle cx="210.8" cy="785.4" r="1.5" fill="#2a2440"/></g>
<g clip-path="url(#ci3)"><rect x="262.0" y="682.0" width="80.3" height="108.5" fill="#f0d9e7"/><path d="M262.0 682.0 L270 682.0 C285 695 293 715 296 740 C298 760 298 775 298 790.5 L262.0 790.5Z" fill="#e9cde0" filter="url(#blur2)"/><rect x="262.0" y="682.0" width="80.3" height="108.5" filter="url(#nPink)" opacity="0.32"/><rect x="262.0" y="682.0" width="80.3" height="108.5" filter="url(#nLight)" opacity="0.5"/><path d="M261.5 682.5 L267.5 683.5 L275.5 684.5 L280.5 688.0 L284.5 694.0 L288.5 700.0 L291.7 707.4 L294.5 713.0 L296.1 719.2 L297.1 726.0 L297.6 733.9 L298.0 741.0 L298.3 748.6 L298.7 756.0 L299.0 763.3 L299.5 770.0 L299.8 778.0 L299.5 784.0 L299.0 790.5" stroke="#5a4070" stroke-width="5" fill="none" opacity="0.55"/><rect x="262.0" y="682.0" width="80.3" height="108.5" filter="url(#nSpeck)" opacity="0.4"/><ellipse cx="269.7" cy="682.7" rx="2.0" ry="1.7" fill="#2a1a40" opacity="0.77"/><ellipse cx="267.0" cy="684.4" rx="1.8" ry="2.2" fill="#2a1a40" opacity="0.57"/><ellipse cx="261.0" cy="680.7" rx="1.3" ry="1.0" fill="#2a1a40" opacity="0.66"/><ellipse cx="263.3" cy="682.0" rx="1.4" ry="1.5" fill="#2a1a40" opacity="0.92"/><ellipse cx="267.0" cy="681.5" rx="1.8" ry="1.2" fill="#2a1a40" opacity="0.70"/><ellipse cx="268.7" cy="685.2" rx="1.9" ry="1.7" fill="#2a1a40" opacity="0.86"/><ellipse cx="261.2" cy="681.3" rx="0.9" ry="1.4" fill="#2a1a40" opacity="0.93"/><ellipse cx="266.0" cy="685.4" rx="1.4" ry="1.9" fill="#2a1a40" opacity="0.73"/><ellipse cx="261.4" cy="683.2" rx="1.3" ry="1.7" fill="#2a1a40" opacity="0.91"/><ellipse cx="270.8" cy="681.9" rx="1.2" ry="2.4" fill="#2a1a40" opacity="0.57"/><ellipse cx="267.8" cy="681.4" rx="1.8" ry="2.1" fill="#2a1a40" opacity="0.70"/><ellipse cx="278.0" cy="682.1" rx="1.7" ry="2.4" fill="#2a1a40" opacity="0.84"/><ellipse cx="273.9" cy="682.2" rx="1.7" ry="1.3" fill="#2a1a40" opacity="0.72"/><ellipse cx="269.5" cy="684.0" rx="2.3" ry="2.2" fill="#2a1a40" opacity="0.62"/><ellipse cx="275.8" cy="685.0" rx="2.2" ry="1.3" fill="#2a1a40" opacity="0.61"/><ellipse cx="273.8" cy="681.8" rx="1.7" ry="2.1" fill="#2a1a40" opacity="0.68"/><ellipse cx="270.0" cy="682.6" rx="2.3" ry="2.2" fill="#2a1a40" opacity="0.57"/><ellipse cx="274.4" cy="682.2" rx="2.3" ry="1.0" fill="#2a1a40" opacity="0.85"/><ellipse cx="279.7" cy="686.0" rx="1.1" ry="1.6" fill="#2a1a40" opacity="0.90"/><ellipse cx="279.2" cy="684.5" rx="1.2" ry="1.7" fill="#2a1a40" opacity="0.67"/><ellipse cx="280.6" cy="686.1" rx="1.9" ry="1.6" fill="#2a1a40" opacity="0.64"/><ellipse cx="275.2" cy="683.5" rx="1.8" ry="1.2" fill="#2a1a40" opacity="0.80"/><ellipse cx="273.6" cy="684.0" rx="2.3" ry="2.2" fill="#2a1a40" opacity="0.82"/><ellipse cx="277.1" cy="685.1" rx="1.1" ry="2.3" fill="#2a1a40" opacity="0.86"/><ellipse cx="279.1" cy="686.9" rx="1.2" ry="1.0" fill="#2a1a40" opacity="0.74"/><ellipse cx="276.3" cy="686.6" rx="1.9" ry="2.4" fill="#2a1a40" opacity="0.69"/><ellipse cx="279.4" cy="687.1" rx="1.3" ry="1.2" fill="#2a1a40" opacity="0.66"/><ellipse cx="284.0" cy="689.8" rx="2.3" ry="1.6" fill="#2a1a40" opacity="0.57"/><ellipse cx="287.5" cy="695.7" rx="2.2" ry="2.4" fill="#2a1a40" opacity="0.62"/><ellipse cx="279.4" cy="690.3" rx="1.2" ry="1.5" fill="#2a1a40" opacity="0.94"/><ellipse cx="281.0" cy="691.9" rx="2.1" ry="1.6" fill="#2a1a40" opacity="0.95"/><ellipse cx="281.3" cy="693.7" rx="2.0" ry="1.1" fill="#2a1a40" opacity="0.78"/><ellipse cx="283.3" cy="691.3" rx="2.0" ry="1.0" fill="#2a1a40" opacity="0.89"/><ellipse cx="278.9" cy="689.4" rx="2.3" ry="1.0" fill="#2a1a40" opacity="0.82"/><ellipse cx="279.7" cy="689.9" rx="1.1" ry="2.2" fill="#2a1a40" opacity="0.80"/><ellipse cx="285.2" cy="689.0" rx="1.8" ry="1.7" fill="#2a1a40" opacity="0.84"/><ellipse cx="284.1" cy="694.5" rx="1.5" ry="1.9" fill="#2a1a40" opacity="0.85"/><ellipse cx="288.3" cy="692.3" rx="1.6" ry="2.4" fill="#2a1a40" opacity="0.64"/><ellipse cx="288.2" cy="694.9" rx="2.3" ry="2.2" fill="#2a1a40" opacity="0.61"/><ellipse cx="291.2" cy="699.8" rx="2.0" ry="1.8" fill="#2a1a40" opacity="0.55"/><ellipse cx="290.8" cy="697.1" rx="1.3" ry="1.9" fill="#2a1a40" opacity="0.60"/><ellipse cx="285.7" cy="695.7" rx="1.7" ry="1.3" fill="#2a1a40" opacity="0.63"/><ellipse cx="289.9" cy="699.5" rx="1.3" ry="1.6" fill="#2a1a40" opacity="0.59"/><ellipse cx="288.1" cy="697.2" rx="1.3" ry="0.9" fill="#2a1a40" opacity="0.65"/><ellipse cx="284.0" cy="696.3" rx="1.7" ry="1.5" fill="#2a1a40" opacity="0.90"/><ellipse cx="292.0" cy="704.9" rx="1.7" ry="2.2" fill="#2a1a40" opacity="0.60"/><ellipse cx="292.0" cy="704.3" rx="2.2" ry="2.1" fill="#2a1a40" opacity="0.63"/><ellipse cx="292.0" cy="701.4" rx="1.1" ry="2.1" fill="#2a1a40" opacity="0.80"/><ellipse cx="292.3" cy="702.7" rx="2.3" ry="2.2" fill="#2a1a40" opacity="0.90"/><ellipse cx="291.6" cy="701.7" rx="2.0" ry="1.4" fill="#2a1a40" opacity="0.90"/><ellipse cx="288.4" cy="707.9" rx="1.3" ry="2.1" fill="#2a1a40" opacity="0.89"/><ellipse cx="287.8" cy="703.1" rx="2.1" ry="1.6" fill="#2a1a40" opacity="0.64"/><ellipse cx="291.1" cy="702.5" rx="1.2" ry="1.4" fill="#2a1a40" opacity="0.66"/><ellipse cx="290.8" cy="706.9" rx="1.5" ry="2.4" fill="#2a1a40" opacity="0.60"/><ellipse cx="292.8" cy="710.9" rx="1.2" ry="2.3" fill="#2a1a40" opacity="0.72"/><ellipse cx="293.8" cy="710.9" rx="1.4" ry="1.8" fill="#2a1a40" opacity="0.78"/><ellipse cx="295.4" cy="709.0" rx="2.0" ry="0.9" fill="#2a1a40" opacity="0.84"/><ellipse cx="290.8" cy="712.4" rx="1.9" ry="1.4" fill="#2a1a40" opacity="0.68"/><ellipse cx="291.2" cy="708.2" rx="2.2" ry="2.0" fill="#2a1a40" opacity="0.71"/><ellipse cx="292.3" cy="711.9" rx="1.3" ry="1.1" fill="#2a1a40" opacity="0.82"/><ellipse cx="294.6" cy="710.0" rx="1.8" ry="1.4" fill="#2a1a40" opacity="0.66"/><ellipse cx="292.7" cy="709.5" rx="1.8" ry="1.9" fill="#2a1a40" opacity="0.64"/><ellipse cx="290.7" cy="708.0" rx="2.3" ry="2.1" fill="#2a1a40" opacity="0.76"/><ellipse cx="297.3" cy="717.8" rx="1.4" ry="2.1" fill="#2a1a40" opacity="0.64"/><ellipse cx="294.6" cy="716.0" rx="0.9" ry="1.3" fill="#2a1a40" opacity="0.58"/><ellipse cx="296.5" cy="715.5" rx="1.8" ry="1.2" fill="#2a1a40" opacity="0.65"/><ellipse cx="297.4" cy="715.1" rx="0.9" ry="2.0" fill="#2a1a40" opacity="0.72"/><ellipse cx="291.6" cy="712.8" rx="2.3" ry="1.7" fill="#2a1a40" opacity="0.89"/><ellipse cx="298.6" cy="716.3" rx="2.1" ry="1.9" fill="#2a1a40" opacity="0.93"/><ellipse cx="296.0" cy="720.2" rx="1.8" ry="2.0" fill="#2a1a40" opacity="0.77"/><ellipse cx="294.2" cy="717.3" rx="2.0" ry="1.6" fill="#2a1a40" opacity="0.81"/><ellipse cx="294.1" cy="715.6" rx="1.7" ry="1.8" fill="#2a1a40" opacity="0.66"/><ellipse cx="293.8" cy="719.7" rx="1.4" ry="1.7" fill="#2a1a40" opacity="0.83"/><ellipse cx="297.1" cy="723.6" rx="1.0" ry="1.5" fill="#2a1a40" opacity="0.63"/><ellipse cx="297.9" cy="723.8" rx="2.3" ry="1.8" fill="#2a1a40" opacity="0.86"/><ellipse cx="298.3" cy="723.6" rx="0.9" ry="1.4" fill="#2a1a40" opacity="0.93"/><ellipse cx="297.2" cy="720.7" rx="2.0" ry="1.7" fill="#2a1a40" opacity="0.64"/><ellipse cx="297.8" cy="721.7" rx="0.9" ry="1.4" fill="#2a1a40" opacity="0.62"/><ellipse cx="293.3" cy="721.8" rx="1.1" ry="1.8" fill="#2a1a40" opacity="0.78"/><ellipse cx="295.9" cy="717.1" rx="1.9" ry="1.1" fill="#2a1a40" opacity="0.70"/><ellipse cx="295.5" cy="721.9" rx="1.4" ry="2.0" fill="#2a1a40" opacity="0.88"/><ellipse cx="297.5" cy="730.5" rx="1.0" ry="0.9" fill="#2a1a40" opacity="0.69"/><ellipse cx="299.2" cy="733.4" rx="2.1" ry="1.9" fill="#2a1a40" opacity="0.63"/><ellipse cx="298.3" cy="726.5" rx="1.1" ry="1.1" fill="#2a1a40" opacity="0.64"/><ellipse cx="298.2" cy="732.8" rx="2.1" ry="1.2" fill="#2a1a40" opacity="0.60"/><ellipse cx="294.2" cy="731.5" rx="2.3" ry="1.1" fill="#2a1a40" opacity="0.82"/><ellipse cx="294.6" cy="734.5" rx="1.5" ry="2.0" fill="#2a1a40" opacity="0.80"/><ellipse cx="297.9" cy="724.9" rx="2.1" ry="2.2" fill="#2a1a40" opacity="0.94"/><ellipse cx="296.6" cy="732.2" rx="1.4" ry="1.5" fill="#2a1a40" opacity="0.69"/><ellipse cx="300.8" cy="733.4" rx="2.1" ry="1.1" fill="#2a1a40" opacity="0.88"/><ellipse cx="301.1" cy="737.8" rx="1.6" ry="2.0" fill="#2a1a40" opacity="0.87"/><ellipse cx="299.4" cy="736.6" rx="1.6" ry="1.6" fill="#2a1a40" opacity="0.89"/><ellipse cx="296.1" cy="739.6" rx="1.0" ry="2.2" fill="#2a1a40" opacity="0.79"/><ellipse cx="295.5" cy="735.2" rx="0.9" ry="2.2" fill="#2a1a40" opacity="0.87"/><ellipse cx="296.2" cy="733.9" rx="2.2" ry="2.0" fill="#2a1a40" opacity="0.93"/><ellipse cx="299.4" cy="735.5" rx="2.0" ry="1.6" fill="#2a1a40" opacity="0.81"/><ellipse cx="295.8" cy="738.3" rx="2.1" ry="1.0" fill="#2a1a40" opacity="0.67"/><ellipse cx="297.3" cy="739.3" rx="1.6" ry="1.7" fill="#2a1a40" opacity="0.68"/><ellipse cx="295.2" cy="737.4" rx="1.3" ry="1.3" fill="#2a1a40" opacity="0.60"/><ellipse cx="296.2" cy="745.0" rx="2.0" ry="1.2" fill="#2a1a40" opacity="0.84"/><ellipse cx="295.5" cy="746.9" rx="1.7" ry="1.3" fill="#2a1a40" opacity="0.64"/><ellipse cx="296.5" cy="744.7" rx="0.9" ry="1.7" fill="#2a1a40" opacity="0.77"/><ellipse cx="298.1" cy="748.2" rx="1.1" ry="2.2" fill="#2a1a40" opacity="0.78"/><ellipse cx="295.0" cy="746.8" rx="1.6" ry="1.2" fill="#2a1a40" opacity="0.74"/><ellipse cx="299.2" cy="745.0" rx="1.5" ry="1.0" fill="#2a1a40" opacity="0.61"/><ellipse cx="295.5" cy="746.6" rx="1.4" ry="2.4" fill="#2a1a40" opacity="0.79"/><ellipse cx="297.9" cy="746.7" rx="1.2" ry="1.7" fill="#2a1a40" opacity="0.89"/><ellipse cx="299.1" cy="749.7" rx="1.4" ry="1.8" fill="#2a1a40" opacity="0.93"/><ellipse cx="296.0" cy="748.5" rx="1.2" ry="1.9" fill="#2a1a40" opacity="0.58"/><ellipse cx="296.8" cy="747.3" rx="1.6" ry="1.8" fill="#2a1a40" opacity="0.83"/><ellipse cx="301.5" cy="755.2" rx="1.6" ry="1.9" fill="#2a1a40" opacity="0.80"/><ellipse cx="298.9" cy="754.2" rx="2.3" ry="1.5" fill="#2a1a40" opacity="0.91"/><ellipse cx="297.3" cy="756.0" rx="1.0" ry="1.1" fill="#2a1a40" opacity="0.78"/><ellipse cx="299.8" cy="752.9" rx="1.1" ry="1.9" fill="#2a1a40" opacity="0.75"/><ellipse cx="298.0" cy="751.4" rx="1.0" ry="1.0" fill="#2a1a40" opacity="0.65"/><ellipse cx="298.9" cy="751.5" rx="2.3" ry="2.2" fill="#2a1a40" opacity="0.95"/><ellipse cx="300.4" cy="753.4" rx="1.3" ry="1.0" fill="#2a1a40" opacity="0.81"/><ellipse cx="299.9" cy="762.6" rx="1.2" ry="1.8" fill="#2a1a40" opacity="0.59"/><ellipse cx="301.3" cy="757.7" rx="1.4" ry="1.9" fill="#2a1a40" opacity="0.83"/><ellipse cx="299.1" cy="757.9" rx="2.3" ry="2.1" fill="#2a1a40" opacity="0.68"/><ellipse cx="298.9" cy="760.8" rx="2.4" ry="1.5" fill="#2a1a40" opacity="0.81"/><ellipse cx="297.9" cy="761.2" rx="1.5" ry="1.2" fill="#2a1a40" opacity="0.80"/><ellipse cx="301.9" cy="761.2" rx="1.2" ry="1.7" fill="#2a1a40" opacity="0.83"/><ellipse cx="296.9" cy="755.2" rx="2.4" ry="1.8" fill="#2a1a40" opacity="0.77"/><ellipse cx="301.8" cy="759.8" rx="1.0" ry="2.4" fill="#2a1a40" opacity="0.60"/><ellipse cx="299.0" cy="760.9" rx="1.6" ry="2.0" fill="#2a1a40" opacity="0.88"/><ellipse cx="298.7" cy="772.0" rx="1.3" ry="1.7" fill="#2a1a40" opacity="0.75"/><ellipse cx="301.5" cy="768.8" rx="2.2" ry="1.3" fill="#2a1a40" opacity="0.92"/><ellipse cx="297.8" cy="767.1" rx="2.1" ry="1.3" fill="#2a1a40" opacity="0.95"/><ellipse cx="298.2" cy="766.8" rx="1.1" ry="1.7" fill="#2a1a40" opacity="0.77"/><ellipse cx="300.6" cy="766.7" rx="1.4" ry="1.2" fill="#2a1a40" opacity="0.64"/><ellipse cx="300.8" cy="770.1" rx="1.0" ry="2.0" fill="#2a1a40" opacity="0.70"/><ellipse cx="299.3" cy="765.4" rx="2.1" ry="2.4" fill="#2a1a40" opacity="0.75"/><ellipse cx="298.9" cy="767.4" rx="2.2" ry="2.2" fill="#2a1a40" opacity="0.73"/><ellipse cx="296.9" cy="768.0" rx="1.5" ry="1.9" fill="#2a1a40" opacity="0.94"/><ellipse cx="302.1" cy="774.5" rx="1.9" ry="1.9" fill="#2a1a40" opacity="0.89"/><ellipse cx="301.4" cy="774.9" rx="1.4" ry="2.0" fill="#2a1a40" opacity="0.56"/><ellipse cx="303.0" cy="771.8" rx="1.8" ry="2.3" fill="#2a1a40" opacity="0.72"/><ellipse cx="299.1" cy="771.8" rx="1.9" ry="2.2" fill="#2a1a40" opacity="0.91"/><ellipse cx="298.6" cy="768.6" rx="2.1" ry="1.3" fill="#2a1a40" opacity="0.76"/><ellipse cx="296.7" cy="776.4" rx="2.1" ry="1.2" fill="#2a1a40" opacity="0.80"/><ellipse cx="299.3" cy="770.7" rx="2.3" ry="1.1" fill="#2a1a40" opacity="0.65"/><ellipse cx="300.7" cy="768.4" rx="2.1" ry="2.3" fill="#2a1a40" opacity="0.73"/><ellipse cx="299.1" cy="771.5" rx="1.8" ry="1.9" fill="#2a1a40" opacity="0.89"/><ellipse cx="297.9" cy="779.6" rx="1.5" ry="1.6" fill="#2a1a40" opacity="0.78"/><ellipse cx="300.6" cy="782.8" rx="1.3" ry="2.4" fill="#2a1a40" opacity="0.78"/><ellipse cx="300.3" cy="782.1" rx="2.0" ry="1.0" fill="#2a1a40" opacity="0.91"/><ellipse cx="298.7" cy="780.4" rx="2.1" ry="1.8" fill="#2a1a40" opacity="0.80"/><ellipse cx="302.0" cy="782.7" rx="2.0" ry="1.9" fill="#2a1a40" opacity="0.91"/><ellipse cx="300.2" cy="783.0" rx="1.4" ry="1.6" fill="#2a1a40" opacity="0.59"/><ellipse cx="297.1" cy="780.0" rx="2.0" ry="1.2" fill="#2a1a40" opacity="0.94"/><ellipse cx="297.9" cy="782.8" rx="2.3" ry="2.1" fill="#2a1a40" opacity="0.74"/><ellipse cx="296.9" cy="785.2" rx="2.0" ry="1.4" fill="#2a1a40" opacity="0.61"/><ellipse cx="302.4" cy="792.6" rx="2.2" ry="2.0" fill="#2a1a40" opacity="0.87"/><ellipse cx="299.6" cy="786.2" rx="2.1" ry="0.9" fill="#2a1a40" opacity="0.82"/><ellipse cx="302.2" cy="786.4" rx="1.8" ry="2.1" fill="#2a1a40" opacity="0.64"/><ellipse cx="302.4" cy="782.8" rx="2.2" ry="1.7" fill="#2a1a40" opacity="0.58"/><ellipse cx="298.4" cy="787.6" rx="2.3" ry="1.4" fill="#2a1a40" opacity="0.93"/><ellipse cx="302.1" cy="784.2" rx="1.6" ry="1.0" fill="#2a1a40" opacity="0.73"/><ellipse cx="298.6" cy="789.6" rx="2.0" ry="2.3" fill="#2a1a40" opacity="0.61"/><ellipse cx="298.6" cy="789.0" rx="1.0" ry="1.6" fill="#2a1a40" opacity="0.56"/><ellipse cx="301.8" cy="784.4" rx="1.6" ry="2.3" fill="#2a1a40" opacity="0.82"/></g>
<g clip-path="url(#ci4)"><rect x="345.2" y="682.0" width="81.6" height="108.5" fill="#ddd2dc"/><path d="M399 704 C396.5 730 395.5 760 394.5 792.5 L428.8 792.5 L428.8 704 C420 701 410 701 399 704Z" fill="#efeaef" filter="url(#blur1)"/><rect x="345.2" y="682.0" width="81.6" height="108.5" filter="url(#nGrey)" opacity="0.35"/><rect x="345.2" y="682.0" width="81.6" height="108.5" filter="url(#nLight)" opacity="0.35"/><rect x="345.2" y="682.0" width="81.6" height="108.5" filter="url(#nSpeck)" opacity="0.5"/><circle cx="351.8" cy="707.1" r="1.15" fill="#2a2030"/><circle cx="378.3" cy="713.0" r="1.15" fill="#2a2030"/><circle cx="389.0" cy="695.9" r="1.15" fill="#2a2030"/><circle cx="376.8" cy="730.9" r="1.15" fill="#2a2030"/><circle cx="361.0" cy="739.8" r="1.15" fill="#2a2030"/><circle cx="365.8" cy="743.4" r="1.15" fill="#2a2030"/><circle cx="376.8" cy="746.4" r="1.15" fill="#2a2030"/><circle cx="370.2" cy="758.6" r="1.15" fill="#2a2030"/><circle cx="376.8" cy="764.5" r="1.15" fill="#2a2030"/><circle cx="422.4" cy="691.2" r="1.15" fill="#2a2030"/><ellipse cx="384" cy="714.5" rx="1.8" ry="2.2" fill="#8a7a60"/></g>
<g clip-path="url(#ci5)"><rect x="429.3" y="682.0" width="81.4" height="108.5" fill="#f0e8e9"/><rect x="503" y="682.0" width="5" height="108.5" fill="#f6f2f2"/><path d="M429.3 682.0 L470.5 682.0 C472 700 477 720 477.6 740 C478 755 476 765 470 770 C462 775 450 774 443 767 C437 762 432 757 429.3 752Z" fill="#dfcdc8"/><g clip-path="url(#r6t)"><rect x="429.3" y="682.0" width="81.4" height="108.5" filter="url(#nTan)" opacity="0.45"/></g><rect x="429.3" y="682.0" width="81.4" height="108.5" filter="url(#nSpeck)" opacity="0.5"/><circle cx="470.3" cy="700.8" r="1.2" fill="#4a3a55" opacity="0.8"/><circle cx="472.5" cy="705.2" r="1.2" fill="#4a3a55" opacity="0.8"/><circle cx="474.2" cy="719.2" r="1.2" fill="#4a3a55" opacity="0.8"/><circle cx="476.1" cy="723.6" r="1.2" fill="#4a3a55" opacity="0.8"/><circle cx="476.9" cy="735.3" r="1.2" fill="#4a3a55" opacity="0.8"/><circle cx="476.9" cy="744.2" r="1.2" fill="#4a3a55" opacity="0.8"/><circle cx="476.6" cy="748.6" r="1.2" fill="#4a3a55" opacity="0.8"/><circle cx="474.7" cy="758.9" r="1.2" fill="#4a3a55" opacity="0.8"/><circle cx="473.2" cy="763.3" r="1.2" fill="#4a3a55" opacity="0.8"/><circle cx="469.5" cy="767.7" r="1.2" fill="#4a3a55" opacity="0.8"/><circle cx="465.8" cy="769.9" r="1.2" fill="#4a3a55" opacity="0.8"/><circle cx="460.7" cy="771.4" r="1.2" fill="#4a3a55" opacity="0.8"/><circle cx="456.3" cy="772.1" r="1.2" fill="#4a3a55" opacity="0.8"/><circle cx="451.9" cy="769.2" r="1.2" fill="#4a3a55" opacity="0.8"/><circle cx="447.4" cy="767.0" r="1.2" fill="#4a3a55" opacity="0.8"/><circle cx="443.0" cy="763.3" r="1.2" fill="#4a3a55" opacity="0.8"/><circle cx="438.6" cy="760.4" r="1.2" fill="#4a3a55" opacity="0.8"/><circle cx="434.2" cy="756.0" r="1.2" fill="#4a3a55" opacity="0.8"/><circle cx="431.3" cy="753.0" r="1.2" fill="#4a3a55" opacity="0.8"/><circle cx="461.4" cy="750.8" r="1.2" fill="#4a3a55" opacity="0.8"/><circle cx="450.4" cy="755.2" r="1.2" fill="#4a3a55" opacity="0.8"/></g>
<g clip-path="url(#ci6)"><rect x="513.3" y="681.5" width="79.5" height="109.0" fill="#efe5ec"/><path d="M513.3 681.5 L548.6 681.5 C547.5 720 548 750 549 765 C550 775 552 785 554.5 790.5 L513.3 790.5Z" fill="#d2b3cc"/><path d="M513.3 681.5 L517.5 681.5 C516.5 730 518 770 522 790.5 L513.3 790.5Z" fill="#e6d9e4"/><g clip-path="url(#r7g)"><rect x="513.3" y="681.5" width="79.5" height="109.0" filter="url(#nPink)" opacity="0.55"/></g><g clip-path="url(#r7g)"><rect x="513.3" y="681.5" width="79.5" height="109.0" filter="url(#nLight)" opacity="0.3"/></g><rect x="513.3" y="681.5" width="79.5" height="109.0" filter="url(#nSpeck)" opacity="0.5"/><circle cx="572.5" cy="788.1" r="0.79" fill="#3a2c48"/><circle cx="565.9" cy="702.2" r="0.70" fill="#3a2c48"/><circle cx="586.2" cy="731.1" r="0.92" fill="#3a2c48"/><circle cx="576.9" cy="746.6" r="0.66" fill="#3a2c48"/><circle cx="583.4" cy="708.0" r="0.70" fill="#3a2c48"/><circle cx="573.4" cy="689.0" r="0.96" fill="#3a2c48"/><circle cx="557.3" cy="705.0" r="1.00" fill="#3a2c48"/><circle cx="562.8" cy="697.6" r="1.01" fill="#3a2c48"/><circle cx="554.5" cy="695.7" r="0.75" fill="#3a2c48"/><circle cx="555.9" cy="753.6" r="0.66" fill="#3a2c48"/><circle cx="558.7" cy="716.8" r="0.72" fill="#3a2c48"/><circle cx="571.7" cy="762.8" r="0.84" fill="#3a2c48"/><circle cx="583.0" cy="737.4" r="0.69" fill="#3a2c48"/><circle cx="570.7" cy="784.6" r="0.67" fill="#3a2c48"/><circle cx="583.2" cy="776.0" r="0.86" fill="#3a2c48"/><circle cx="568.6" cy="786.6" r="0.67" fill="#3a2c48"/><circle cx="569.6" cy="725.3" r="0.92" fill="#3a2c48"/><circle cx="570.1" cy="780.7" r="0.68" fill="#3a2c48"/><circle cx="551.6" cy="747.8" r="0.68" fill="#3a2c48"/><circle cx="560.4" cy="750.5" r="0.87" fill="#3a2c48"/><circle cx="562.6" cy="789.9" r="0.86" fill="#3a2c48"/><circle cx="568.4" cy="747.5" r="0.69" fill="#3a2c48"/><circle cx="579.6" cy="774.5" r="0.91" fill="#3a2c48"/><circle cx="582.6" cy="760.1" r="0.74" fill="#3a2c48"/><circle cx="568.3" cy="706.4" r="0.79" fill="#3a2c48"/><circle cx="568.4" cy="726.8" r="0.69" fill="#3a2c48"/><circle cx="567.2" cy="754.0" r="0.80" fill="#3a2c48"/><circle cx="554.9" cy="782.1" r="0.68" fill="#3a2c48"/><circle cx="585.4" cy="691.7" r="0.69" fill="#3a2c48"/><circle cx="581.2" cy="770.0" r="0.87" fill="#3a2c48"/><circle cx="574.4" cy="742.7" r="0.78" fill="#3a2c48"/><circle cx="553.5" cy="720.0" r="0.92" fill="#3a2c48"/><circle cx="581.8" cy="776.1" r="0.94" fill="#3a2c48"/><circle cx="591.6" cy="746.9" r="0.79" fill="#3a2c48"/><circle cx="574.0" cy="704.7" r="0.91" fill="#3a2c48"/><circle cx="558.1" cy="693.3" r="0.99" fill="#3a2c48"/><circle cx="564.5" cy="764.6" r="0.88" fill="#3a2c48"/><circle cx="584.3" cy="773.6" r="1.04" fill="#3a2c48"/><circle cx="584.8" cy="748.4" r="0.91" fill="#3a2c48"/><circle cx="585.3" cy="710.7" r="0.72" fill="#3a2c48"/><circle cx="579.6" cy="715.2" r="0.79" fill="#3a2c48"/><circle cx="573.5" cy="725.2" r="0.71" fill="#3a2c48"/><circle cx="576.5" cy="684.8" r="0.95" fill="#3a2c48"/><circle cx="557.7" cy="727.3" r="0.79" fill="#3a2c48"/><circle cx="564.7" cy="760.2" r="0.96" fill="#3a2c48"/><circle cx="573.5" cy="690.8" r="0.67" fill="#3a2c48"/><circle cx="555.1" cy="748.8" r="0.92" fill="#3a2c48"/><circle cx="560.2" cy="753.7" r="0.84" fill="#3a2c48"/><circle cx="567.9" cy="711.3" r="0.95" fill="#3a2c48"/><circle cx="553.1" cy="728.4" r="0.76" fill="#3a2c48"/><circle cx="578.5" cy="734.5" r="0.92" fill="#3a2c48"/><circle cx="550.0" cy="724.6" r="0.89" fill="#3a2c48"/><circle cx="557.5" cy="696.5" r="0.75" fill="#3a2c48"/><circle cx="562.8" cy="682.3" r="0.95" fill="#3a2c48"/><circle cx="555.9" cy="722.9" r="0.93" fill="#3a2c48"/><circle cx="570.5" cy="772.3" r="0.97" fill="#3a2c48"/><circle cx="549.9" cy="683.5" r="1.02" fill="#3a2c48"/><circle cx="586.8" cy="744.3" r="0.88" fill="#3a2c48"/><circle cx="579.9" cy="727.0" r="0.70" fill="#3a2c48"/><circle cx="584.1" cy="748.9" r="0.98" fill="#3a2c48"/><circle cx="589.4" cy="691.1" r="0.99" fill="#3a2c48"/><circle cx="558.9" cy="745.7" r="0.86" fill="#3a2c48"/><circle cx="565.8" cy="715.3" r="0.79" fill="#3a2c48"/><circle cx="563.0" cy="699.8" r="0.85" fill="#3a2c48"/><circle cx="553.1" cy="737.1" r="1.01" fill="#3a2c48"/><circle cx="563.7" cy="760.8" r="0.98" fill="#3a2c48"/><circle cx="584.7" cy="707.3" r="0.71" fill="#3a2c48"/><circle cx="556.9" cy="747.2" r="0.95" fill="#3a2c48"/><circle cx="577.5" cy="700.8" r="0.96" fill="#3a2c48"/><circle cx="570.2" cy="763.7" r="0.95" fill="#3a2c48"/><circle cx="568.2" cy="782.2" r="0.88" fill="#3a2c48"/><circle cx="576.6" cy="749.6" r="1.00" fill="#3a2c48"/><circle cx="576.2" cy="698.0" r="0.68" fill="#3a2c48"/><circle cx="567.9" cy="714.5" r="0.76" fill="#3a2c48"/><circle cx="550.5" cy="736.8" r="0.77" fill="#3a2c48"/><circle cx="568.3" cy="687.7" r="0.98" fill="#3a2c48"/><circle cx="586.5" cy="748.5" r="0.85" fill="#3a2c48"/><circle cx="568.8" cy="741.9" r="0.97" fill="#3a2c48"/><circle cx="588.3" cy="730.5" r="0.97" fill="#3a2c48"/><circle cx="577.3" cy="716.5" r="0.84" fill="#3a2c48"/><circle cx="554.8" cy="688.2" r="0.69" fill="#3a2c48"/><circle cx="588.5" cy="718.9" r="0.94" fill="#3a2c48"/><circle cx="570.7" cy="700.3" r="0.75" fill="#3a2c48"/><circle cx="567.7" cy="729.4" r="0.86" fill="#3a2c48"/><circle cx="555.1" cy="722.1" r="0.76" fill="#3a2c48"/><circle cx="566.4" cy="718.4" r="0.89" fill="#3a2c48"/><circle cx="583.5" cy="752.1" r="0.68" fill="#3a2c48"/><circle cx="552.3" cy="755.4" r="0.76" fill="#3a2c48"/><circle cx="580.6" cy="753.1" r="1.01" fill="#3a2c48"/><circle cx="587.3" cy="717.8" r="0.88" fill="#3a2c48"/><circle cx="554.4" cy="719.6" r="1.04" fill="#3a2c48"/><circle cx="579.4" cy="724.2" r="0.89" fill="#3a2c48"/><circle cx="590.2" cy="715.2" r="0.80" fill="#3a2c48"/><circle cx="583.6" cy="770.1" r="0.92" fill="#3a2c48"/><circle cx="585.3" cy="762.0" r="0.92" fill="#3a2c48"/><circle cx="571.7" cy="751.9" r="0.82" fill="#3a2c48"/><circle cx="564.3" cy="721.0" r="0.72" fill="#3a2c48"/><circle cx="557.6" cy="784.8" r="0.84" fill="#3a2c48"/><circle cx="558.2" cy="696.5" r="0.68" fill="#3a2c48"/><circle cx="586.0" cy="692.5" r="0.96" fill="#3a2c48"/><circle cx="585.6" cy="777.8" r="0.67" fill="#3a2c48"/><circle cx="563.2" cy="765.0" r="0.70" fill="#3a2c48"/><circle cx="565.0" cy="699.2" r="0.98" fill="#3a2c48"/><circle cx="582.7" cy="769.7" r="0.72" fill="#3a2c48"/><circle cx="567.7" cy="726.3" r="0.92" fill="#3a2c48"/><circle cx="558.7" cy="729.9" r="0.76" fill="#3a2c48"/><circle cx="581.7" cy="730.4" r="0.86" fill="#3a2c48"/><circle cx="561.9" cy="769.6" r="0.84" fill="#3a2c48"/><circle cx="585.6" cy="721.6" r="1.03" fill="#3a2c48"/><circle cx="592.3" cy="731.8" r="0.76" fill="#3a2c48"/><circle cx="565.2" cy="739.0" r="1.04" fill="#3a2c48"/><circle cx="584.8" cy="768.8" r="0.71" fill="#3a2c48"/><circle cx="559.3" cy="751.4" r="1.00" fill="#3a2c48"/><circle cx="573.0" cy="692.7" r="0.99" fill="#3a2c48"/><circle cx="586.3" cy="712.6" r="0.96" fill="#3a2c48"/><circle cx="560.3" cy="780.2" r="0.71" fill="#3a2c48"/><circle cx="567.7" cy="784.7" r="0.74" fill="#3a2c48"/><circle cx="568.3" cy="719.6" r="0.66" fill="#3a2c48"/><circle cx="550.4" cy="736.2" r="0.74" fill="#3a2c48"/><circle cx="592.8" cy="722.4" r="0.66" fill="#3a2c48"/><circle cx="589.9" cy="773.0" r="0.91" fill="#3a2c48"/><circle cx="583.6" cy="696.5" r="0.76" fill="#3a2c48"/><circle cx="585.3" cy="757.4" r="0.71" fill="#3a2c48"/><circle cx="579.7" cy="730.4" r="0.65" fill="#3a2c48"/><circle cx="551.6" cy="709.4" r="0.98" fill="#3a2c48"/><circle cx="572.7" cy="760.8" r="0.86" fill="#3a2c48"/><circle cx="553.0" cy="712.9" r="0.77" fill="#3a2c48"/><circle cx="550.1" cy="727.3" r="0.97" fill="#3a2c48"/><circle cx="568.6" cy="693.6" r="1.01" fill="#3a2c48"/><circle cx="574.9" cy="683.3" r="0.86" fill="#3a2c48"/><circle cx="558.9" cy="697.1" r="0.82" fill="#3a2c48"/><circle cx="575.7" cy="707.7" r="0.82" fill="#3a2c48"/><circle cx="577.9" cy="690.8" r="1.04" fill="#3a2c48"/><circle cx="551.0" cy="738.8" r="0.85" fill="#3a2c48"/><circle cx="592.5" cy="741.9" r="0.81" fill="#3a2c48"/><circle cx="569.2" cy="750.8" r="1.04" fill="#3a2c48"/><circle cx="559.4" cy="683.3" r="0.97" fill="#3a2c48"/><circle cx="563.5" cy="761.4" r="0.90" fill="#3a2c48"/><circle cx="582.7" cy="761.6" r="0.78" fill="#3a2c48"/><circle cx="550.0" cy="741.0" r="0.98" fill="#3a2c48"/><circle cx="555.9" cy="766.4" r="0.84" fill="#3a2c48"/><circle cx="579.3" cy="750.4" r="0.97" fill="#3a2c48"/><circle cx="568.6" cy="713.5" r="0.67" fill="#3a2c48"/><circle cx="557.0" cy="686.1" r="1.02" fill="#3a2c48"/><circle cx="571.2" cy="789.3" r="0.87" fill="#3a2c48"/><circle cx="559.4" cy="763.6" r="0.73" fill="#3a2c48"/><circle cx="564.1" cy="766.6" r="1.00" fill="#3a2c48"/><circle cx="562.9" cy="695.1" r="0.80" fill="#3a2c48"/><circle cx="588.0" cy="762.5" r="1.01" fill="#3a2c48"/><circle cx="565.4" cy="787.6" r="0.85" fill="#3a2c48"/><circle cx="570.4" cy="782.2" r="0.86" fill="#3a2c48"/><circle cx="584.1" cy="760.8" r="0.68" fill="#3a2c48"/><circle cx="575.1" cy="771.1" r="0.87" fill="#3a2c48"/><circle cx="562.5" cy="690.2" r="0.91" fill="#3a2c48"/><circle cx="561.8" cy="747.2" r="0.82" fill="#3a2c48"/><circle cx="579.0" cy="719.8" r="0.67" fill="#3a2c48"/><circle cx="587.2" cy="719.9" r="1.05" fill="#3a2c48"/><circle cx="560.4" cy="788.3" r="1.03" fill="#3a2c48"/><circle cx="551.4" cy="751.0" r="0.80" fill="#3a2c48"/><circle cx="584.0" cy="755.6" r="1.03" fill="#3a2c48"/><circle cx="554.4" cy="747.7" r="0.96" fill="#3a2c48"/><circle cx="549.6" cy="688.8" r="0.96" fill="#3a2c48"/><circle cx="564.5" cy="723.2" r="0.88" fill="#3a2c48"/><circle cx="575.2" cy="755.5" r="1.03" fill="#3a2c48"/><circle cx="564.7" cy="764.7" r="0.88" fill="#3a2c48"/></g>
<path d="M56.5 754.4 L47.5 756.6" stroke="#000" stroke-width="0.9"/>
<text x="59.4" y="757.0" font-size="15.5" textLength="31.0" lengthAdjust="spacingAndGlyphs" >PCL</text>
<text x="7.2" y="779.2" font-size="15.5" textLength="32.4" lengthAdjust="spacingAndGlyphs" >GCL</text>
<text x="66.1" y="779.2" font-size="15.5" textLength="22.1" lengthAdjust="spacingAndGlyphs" >ML</text>
<text x="11.2" y="673.1" font-size="20" font-style="italic" textLength="78.0" lengthAdjust="spacingAndGlyphs" >Ppp1r17</text>
<text x="103.2" y="673.1" font-size="20" font-style="italic" textLength="67.7" lengthAdjust="spacingAndGlyphs" >Gabra6</text>
<text x="202.0" y="673.1" font-size="20" font-style="italic" textLength="38.3" lengthAdjust="spacingAndGlyphs" >Lgi2</text>
<text x="276.3" y="673.1" font-size="20" font-style="italic" textLength="56.4" lengthAdjust="spacingAndGlyphs" >Gdf10</text>
<text x="352.8" y="673.1" font-size="20" font-style="italic" textLength="62.7" lengthAdjust="spacingAndGlyphs" >Eomes</text>
<text x="453.0" y="673.1" font-size="20" font-style="italic" textLength="43.9" lengthAdjust="spacingAndGlyphs" >Klhl1</text>
<text x="528.7" y="673.1" font-size="20" font-style="italic" textLength="52.6" lengthAdjust="spacingAndGlyphs" >Prkcd</text>
<text x="17.2" y="809.4" font-size="20" textLength="73.1" lengthAdjust="spacingAndGlyphs" >Purkinje</text>
<text x="99.9" y="809.4" font-size="20" textLength="72.0" lengthAdjust="spacingAndGlyphs" >Granule</text>
<text x="193.4" y="809.4" font-size="20" textLength="47.3" lengthAdjust="spacingAndGlyphs" >Golgi</text>
<text x="259.5" y="809.4" font-size="20" textLength="94.5" lengthAdjust="spacingAndGlyphs" >Bergmann</text>
<text x="365.3" y="809.4" font-size="20" textLength="42.6" lengthAdjust="spacingAndGlyphs" >UBC</text>
<text x="448.0" y="809.4" font-size="20" textLength="27.6" lengthAdjust="spacingAndGlyphs" >PLI</text>
<text x="508.3" y="809.4" font-size="20" textLength="97.7" lengthAdjust="spacingAndGlyphs" >MLI1/MLI2</text>
</svg>
</body></html>
